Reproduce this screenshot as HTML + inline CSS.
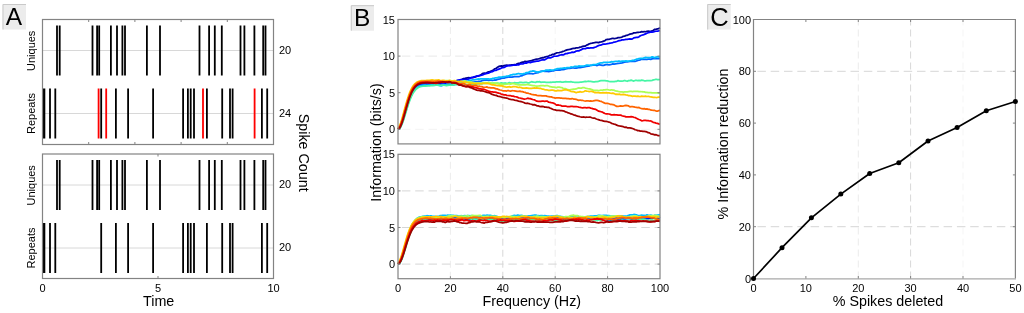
<!DOCTYPE html>
<html><head><meta charset="utf-8"><style>
html,body{margin:0;padding:0;background:#fff;}
body{width:1024px;height:313px;overflow:hidden;}
svg{display:block;font-family:"Liberation Sans", sans-serif;will-change:transform;-webkit-font-smoothing:antialiased;}
</style></head><body>
<svg width="1024" height="313" viewBox="0 0 1024 313">
<rect width="1024" height="313" fill="#fff"/>
<rect x="2.5" y="4" width="23.5" height="25.5" fill="#ececec"/>
<path d="M3.0,29.5 V4.5 H26.0" stroke="#c9c9c9" stroke-width="1" fill="none"/>
<text x="13.9" y="24.9" font-size="24.5" text-anchor="middle" fill="#000">A</text>
<path d="M42.5,50.5H273.5M42.5,113.5H273.5" stroke="#d8d8d8" stroke-width="1" fill="none"/>
<path d="M57.0,25.5V75.5 M59.7,25.5V75.5 M92.5,25.5V75.5 M97.1,25.5V75.5 M99.2,25.5V75.5 M110.9,25.5V75.5 M117.0,25.5V75.5 M122.4,25.5V75.5 M125.0,25.5V75.5 M146.9,25.5V75.5 M160.0,25.5V75.5 M199.5,25.5V75.5 M209.1,25.5V75.5 M214.8,25.5V75.5 M221.8,25.5V75.5 M240.5,25.5V75.5 M244.4,25.5V75.5 M254.4,25.5V75.5 M263.2,25.5V75.5 M265.5,25.5V75.5" stroke="#000" stroke-width="1.8" fill="none"/>
<path d="M42.9,88.5V138.5 M44.4,88.5V138.5 M50.0,88.5V138.5 M55.3,88.5V138.5 M101.2,88.5V138.5 M115.9,88.5V138.5 M128.1,88.5V138.5 M153.1,88.5V138.5 M183.1,88.5V138.5 M187.9,88.5V138.5 M190.7,88.5V138.5 M194.0,88.5V138.5 M206.9,88.5V138.5 M222.2,88.5V138.5 M230.0,88.5V138.5 M232.6,88.5V138.5 M261.9,88.5V138.5 M267.2,88.5V138.5" stroke="#000" stroke-width="1.8" fill="none"/>
<path d="M98.6,88.5V138.5 M106.2,88.5V138.5 M203.0,88.5V138.5 M254.6,88.5V138.5" stroke="#ff0000" stroke-width="1.8" fill="none"/>
<rect x="42.5" y="19.5" width="231.0" height="125.0" fill="none" stroke="#838383" stroke-width="1.2"/>
<path d="M88.7,19.5v2.5M88.7,144.5v-2.5 M134.9,19.5v2.5M134.9,144.5v-2.5 M181.1,19.5v2.5M181.1,144.5v-2.5 M227.3,19.5v2.5M227.3,144.5v-2.5" stroke="#838383" stroke-width="1" fill="none"/>
<text x="35.0" y="50.8" font-size="11" text-anchor="middle" fill="#000" transform="rotate(-90 35.0 50.8)">Uniques</text>
<text x="35.1" y="113.5" font-size="11" text-anchor="middle" fill="#000" transform="rotate(-90 35.1 113.5)">Repeats</text>
<text x="279" y="53.7" font-size="11" text-anchor="start" fill="#000">20</text>
<text x="279" y="116.7" font-size="11" text-anchor="start" fill="#000">24</text>
<path d="M42.5,185.0H273.5M42.5,248.0H273.5" stroke="#d8d8d8" stroke-width="1" fill="none"/>
<path d="M57.0,160V210 M59.7,160V210 M92.5,160V210 M97.1,160V210 M99.2,160V210 M110.9,160V210 M117.0,160V210 M122.4,160V210 M125.0,160V210 M146.9,160V210 M160.0,160V210 M199.5,160V210 M209.1,160V210 M214.8,160V210 M221.8,160V210 M240.5,160V210 M244.4,160V210 M254.4,160V210 M263.2,160V210 M265.5,160V210" stroke="#000" stroke-width="1.8" fill="none"/>
<path d="M42.9,223V273 M44.4,223V273 M50.0,223V273 M55.3,223V273 M101.2,223V273 M115.9,223V273 M128.1,223V273 M153.1,223V273 M183.1,223V273 M187.9,223V273 M190.7,223V273 M194.0,223V273 M206.9,223V273 M222.2,223V273 M230.0,223V273 M232.6,223V273 M261.9,223V273 M267.2,223V273" stroke="#000" stroke-width="1.8" fill="none"/>
<rect x="42.5" y="154" width="231.0" height="124.5" fill="none" stroke="#838383" stroke-width="1.2"/>
<path d="M158.0,154v2.5M158.0,278.5v-2.5" stroke="#838383" stroke-width="1" fill="none"/>
<text x="35.0" y="185.3" font-size="11" text-anchor="middle" fill="#000" transform="rotate(-90 35.0 185.3)">Uniques</text>
<text x="35.1" y="248.0" font-size="11" text-anchor="middle" fill="#000" transform="rotate(-90 35.1 248.0)">Repeats</text>
<text x="279" y="188.2" font-size="11" text-anchor="start" fill="#000">20</text>
<text x="279" y="251.2" font-size="11" text-anchor="start" fill="#000">20</text>
<text x="42.5" y="291.5" font-size="11" text-anchor="middle" fill="#000">0</text>
<text x="158.0" y="291.5" font-size="11" text-anchor="middle" fill="#000">5</text>
<text x="273.5" y="291.5" font-size="11" text-anchor="middle" fill="#000">10</text>
<text x="158.7" y="305.6" font-size="14.3" text-anchor="middle" fill="#000">Time</text>
<text x="299.3" y="152.7" font-size="14.3" text-anchor="middle" fill="#000" transform="rotate(90 299.3 152.7)">Spike Count</text>
<rect x="350.8" y="5.2" width="23.2" height="25.5" fill="#ececec"/>
<path d="M351.3,30.7 V5.7 H374.0" stroke="#c9c9c9" stroke-width="1" fill="none"/>
<text x="362.1" y="26.1" font-size="24.5" text-anchor="middle" fill="#000">B</text>
<path d="M450.4,143.94V19.5" stroke="#ececec" stroke-width="1" stroke-dasharray="7 4" fill="none"/>
<path d="M502.8,143.94V19.5" stroke="#d8d8d8" stroke-width="1" stroke-dasharray="7 4" fill="none"/>
<path d="M555.2,143.94V19.5" stroke="#f5f5f5" stroke-width="1" stroke-dasharray="7 4" fill="none"/>
<path d="M607.6,143.94V19.5" stroke="#ececec" stroke-width="1" stroke-dasharray="7 4" fill="none"/>
<path d="M398.0,129.3H660.0" stroke="#f3f3f3" stroke-width="1" stroke-dasharray="8.5 4.8" stroke-dashoffset="-3.9" fill="none"/>
<path d="M398.0,56.1H660.0" stroke="#e8e8e8" stroke-width="1" stroke-dasharray="8.5 4.8" stroke-dashoffset="-3.9" fill="none"/>
<path d="M398.00,129.30 L399.31,128.47 L400.62,126.29 L401.93,123.04 L403.24,119.02 L404.55,114.55 L405.86,109.91 L407.17,105.36 L408.48,101.11 L409.79,97.30 L411.10,94.00 L412.41,91.24 L413.72,89.02 L415.03,87.27 L416.34,85.94 L417.65,84.96 L418.96,84.25 L420.27,83.80 L421.58,83.45 L422.89,83.17 L424.20,83.03 L425.51,82.83 L426.82,82.68 L428.13,82.54 L429.44,82.47 L430.75,82.56 L432.06,82.65 L433.37,82.53 L434.68,82.71 L435.99,82.77 L437.30,83.09 L438.61,83.15 L439.92,83.11 L441.23,82.80 L442.54,82.94 L443.85,82.79 L445.16,82.53 L446.47,82.50 L447.78,82.08 L449.09,81.50 L450.40,81.90 L451.71,81.58 L453.02,81.42 L454.33,81.44 L455.64,80.82 L456.95,80.62 L458.26,80.93 L459.57,80.15 L460.88,79.73 L462.19,79.30 L463.50,78.64 L464.81,78.44 L466.12,78.18 L467.43,77.92 L468.74,77.73 L470.05,77.76 L471.36,77.54 L472.67,77.59 L473.98,77.36 L475.29,77.01 L476.60,76.02 L477.91,76.06 L479.22,75.74 L480.53,75.12 L481.84,74.12 L483.15,73.34 L484.46,73.12 L485.77,73.37 L487.08,72.43 L488.39,71.81 L489.70,71.59 L491.01,71.20 L492.32,70.62 L493.63,69.74 L494.94,68.72 L496.25,68.22 L497.56,67.29 L498.87,66.47 L500.18,66.12 L501.49,65.98 L502.80,66.06 L504.11,65.60 L505.42,65.25 L506.73,65.20 L508.04,65.45 L509.35,65.41 L510.66,65.10 L511.97,64.89 L513.28,64.92 L514.59,64.66 L515.90,64.76 L517.21,63.81 L518.52,63.33 L519.83,63.26 L521.14,62.59 L522.45,62.18 L523.76,62.10 L525.07,61.37 L526.38,61.55 L527.69,61.49 L529.00,61.00 L530.31,60.78 L531.62,60.71 L532.93,60.17 L534.24,59.74 L535.55,59.33 L536.86,59.14 L538.17,59.00 L539.48,58.66 L540.79,58.18 L542.10,57.72 L543.41,57.83 L544.72,57.13 L546.03,56.73 L547.34,56.49 L548.65,55.96 L549.96,55.32 L551.27,55.05 L552.58,54.41 L553.89,54.26 L555.20,53.61 L556.51,52.98 L557.82,52.76 L559.13,52.56 L560.44,52.24 L561.75,51.93 L563.06,51.44 L564.37,50.99 L565.68,50.34 L566.99,49.87 L568.30,49.64 L569.61,49.45 L570.92,49.08 L572.23,48.68 L573.54,48.48 L574.85,48.42 L576.16,47.76 L577.47,47.80 L578.78,47.58 L580.09,47.16 L581.40,46.89 L582.71,46.40 L584.02,46.19 L585.33,46.05 L586.64,45.12 L587.95,44.64 L589.26,43.84 L590.57,43.48 L591.88,43.26 L593.19,42.82 L594.50,42.62 L595.81,42.32 L597.12,42.37 L598.43,42.57 L599.74,42.07 L601.05,41.90 L602.36,41.61 L603.67,41.09 L604.98,40.63 L606.29,39.53 L607.60,39.48 L608.91,39.45 L610.22,39.01 L611.53,38.59 L612.84,38.27 L614.15,38.67 L615.46,38.46 L616.77,38.13 L618.08,37.64 L619.39,37.58 L620.70,37.38 L622.01,37.07 L623.32,36.29 L624.63,36.18 L625.94,35.46 L627.25,35.28 L628.56,34.72 L629.87,34.17 L631.18,33.91 L632.49,33.65 L633.80,32.87 L635.11,32.96 L636.42,32.53 L637.73,32.28 L639.04,32.26 L640.35,32.04 L641.66,31.65 L642.97,31.78 L644.28,31.56 L645.59,31.75 L646.90,31.29 L648.21,31.21 L649.52,31.26 L650.83,31.30 L652.14,30.90 L653.45,30.17 L654.76,29.31 L656.07,29.32 L657.38,28.85 L658.69,28.58 L660.00,27.86" stroke="#000090" stroke-width="1.75" fill="none" stroke-linejoin="round"/>
<path d="M398.00,129.30 L399.31,128.49 L400.62,126.34 L401.93,123.14 L403.24,119.19 L404.55,114.78 L405.86,110.22 L407.17,105.74 L408.48,101.56 L409.79,97.80 L411.10,94.56 L412.41,91.84 L413.72,89.65 L415.03,87.93 L416.34,86.62 L417.65,85.66 L418.96,84.96 L420.27,84.48 L421.58,84.15 L422.89,84.07 L424.20,83.93 L425.51,83.86 L426.82,84.04 L428.13,84.05 L429.44,83.69 L430.75,83.63 L432.06,83.11 L433.37,83.22 L434.68,83.05 L435.99,82.64 L437.30,82.33 L438.61,82.62 L439.92,82.46 L441.23,83.08 L442.54,83.28 L443.85,83.62 L445.16,83.46 L446.47,83.76 L447.78,83.39 L449.09,83.35 L450.40,82.75 L451.71,82.41 L453.02,81.74 L454.33,81.36 L455.64,80.87 L456.95,80.52 L458.26,80.04 L459.57,79.83 L460.88,79.72 L462.19,79.63 L463.50,79.52 L464.81,79.61 L466.12,79.58 L467.43,79.34 L468.74,78.90 L470.05,78.41 L471.36,77.68 L472.67,77.39 L473.98,76.84 L475.29,76.56 L476.60,76.41 L477.91,75.92 L479.22,75.56 L480.53,75.43 L481.84,75.15 L483.15,74.75 L484.46,74.00 L485.77,73.64 L487.08,73.29 L488.39,73.17 L489.70,72.46 L491.01,71.97 L492.32,71.59 L493.63,70.96 L494.94,70.32 L496.25,70.35 L497.56,69.60 L498.87,69.14 L500.18,68.69 L501.49,67.96 L502.80,67.75 L504.11,67.36 L505.42,66.66 L506.73,66.02 L508.04,65.74 L509.35,65.36 L510.66,65.71 L511.97,65.47 L513.28,65.14 L514.59,65.06 L515.90,65.20 L517.21,64.74 L518.52,64.96 L519.83,64.26 L521.14,63.76 L522.45,63.99 L523.76,63.59 L525.07,62.93 L526.38,63.12 L527.69,62.46 L529.00,62.17 L530.31,62.58 L531.62,62.09 L532.93,61.84 L534.24,61.71 L535.55,61.37 L536.86,61.18 L538.17,61.22 L539.48,60.79 L540.79,60.27 L542.10,59.97 L543.41,59.97 L544.72,59.80 L546.03,58.91 L547.34,58.16 L548.65,57.64 L549.96,57.98 L551.27,57.55 L552.58,56.97 L553.89,56.15 L555.20,56.25 L556.51,56.15 L557.82,55.84 L559.13,55.39 L560.44,54.98 L561.75,54.68 L563.06,54.81 L564.37,54.31 L565.68,53.61 L566.99,53.66 L568.30,53.08 L569.61,52.89 L570.92,52.59 L572.23,52.20 L573.54,52.31 L574.85,51.92 L576.16,51.12 L577.47,50.89 L578.78,50.88 L580.09,50.26 L581.40,49.66 L582.71,48.79 L584.02,48.71 L585.33,48.75 L586.64,48.14 L587.95,47.96 L589.26,48.11 L590.57,47.98 L591.88,47.90 L593.19,47.87 L594.50,47.39 L595.81,47.03 L597.12,46.20 L598.43,45.61 L599.74,45.22 L601.05,45.07 L602.36,44.46 L603.67,44.11 L604.98,44.04 L606.29,43.91 L607.60,43.72 L608.91,43.46 L610.22,43.05 L611.53,42.88 L612.84,42.54 L614.15,42.09 L615.46,41.89 L616.77,41.49 L618.08,40.95 L619.39,40.58 L620.70,40.30 L622.01,39.93 L623.32,39.77 L624.63,39.57 L625.94,39.33 L627.25,39.39 L628.56,39.01 L629.87,38.87 L631.18,39.15 L632.49,38.84 L633.80,37.85 L635.11,37.62 L636.42,37.39 L637.73,37.36 L639.04,36.73 L640.35,35.81 L641.66,35.25 L642.97,34.95 L644.28,34.42 L645.59,33.84 L646.90,33.26 L648.21,32.72 L649.52,32.31 L650.83,31.83 L652.14,32.01 L653.45,31.86 L654.76,31.39 L656.07,31.25 L657.38,31.04 L658.69,30.80 L660.00,30.50" stroke="#0000ff" stroke-width="1.75" fill="none" stroke-linejoin="round"/>
<path d="M398.00,129.30 L399.31,128.51 L400.62,126.41 L401.93,123.29 L403.24,119.43 L404.55,115.13 L405.86,110.67 L407.17,106.31 L408.48,102.22 L409.79,98.56 L411.10,95.39 L412.41,92.74 L413.72,90.60 L415.03,88.93 L416.34,87.65 L417.65,86.70 L418.96,86.02 L420.27,85.55 L421.58,85.25 L422.89,85.13 L424.20,85.07 L425.51,85.17 L426.82,85.33 L428.13,85.22 L429.44,85.12 L430.75,85.17 L432.06,85.02 L433.37,85.23 L434.68,84.54 L435.99,84.31 L437.30,84.20 L438.61,84.48 L439.92,84.51 L441.23,84.82 L442.54,84.39 L443.85,84.42 L445.16,84.75 L446.47,84.83 L447.78,84.40 L449.09,84.57 L450.40,84.43 L451.71,84.65 L453.02,84.81 L454.33,84.58 L455.64,84.42 L456.95,84.35 L458.26,83.75 L459.57,83.12 L460.88,82.49 L462.19,82.00 L463.50,81.84 L464.81,81.81 L466.12,81.92 L467.43,82.11 L468.74,82.12 L470.05,82.27 L471.36,82.26 L472.67,82.17 L473.98,82.17 L475.29,81.82 L476.60,81.51 L477.91,81.41 L479.22,81.28 L480.53,81.37 L481.84,80.79 L483.15,80.33 L484.46,80.20 L485.77,80.15 L487.08,79.98 L488.39,80.35 L489.70,80.25 L491.01,80.23 L492.32,80.45 L493.63,80.25 L494.94,79.94 L496.25,80.03 L497.56,79.41 L498.87,79.13 L500.18,78.90 L501.49,78.30 L502.80,78.15 L504.11,78.16 L505.42,77.73 L506.73,77.50 L508.04,77.10 L509.35,76.95 L510.66,77.01 L511.97,77.08 L513.28,76.79 L514.59,76.72 L515.90,76.73 L517.21,76.70 L518.52,76.67 L519.83,76.31 L521.14,75.76 L522.45,75.58 L523.76,74.79 L525.07,74.45 L526.38,74.02 L527.69,73.71 L529.00,73.32 L530.31,73.70 L531.62,73.60 L532.93,73.84 L534.24,73.49 L535.55,73.09 L536.86,72.89 L538.17,72.69 L539.48,71.91 L540.79,71.42 L542.10,71.20 L543.41,71.19 L544.72,71.38 L546.03,71.48 L547.34,71.34 L548.65,71.52 L549.96,71.49 L551.27,71.01 L552.58,70.86 L553.89,70.79 L555.20,70.19 L556.51,70.25 L557.82,70.04 L559.13,69.87 L560.44,70.01 L561.75,69.66 L563.06,69.65 L564.37,69.37 L565.68,68.89 L566.99,68.56 L568.30,68.39 L569.61,68.42 L570.92,68.12 L572.23,67.95 L573.54,67.99 L574.85,68.24 L576.16,68.21 L577.47,67.96 L578.78,67.45 L580.09,67.56 L581.40,67.39 L582.71,67.20 L584.02,66.95 L585.33,66.59 L586.64,66.27 L587.95,66.15 L589.26,66.08 L590.57,65.34 L591.88,65.33 L593.19,65.01 L594.50,65.03 L595.81,65.17 L597.12,65.56 L598.43,64.95 L599.74,64.96 L601.05,65.04 L602.36,65.32 L603.67,65.35 L604.98,64.95 L606.29,64.55 L607.60,64.74 L608.91,64.91 L610.22,64.54 L611.53,64.30 L612.84,63.82 L614.15,64.17 L615.46,63.93 L616.77,63.70 L618.08,63.39 L619.39,63.26 L620.70,63.06 L622.01,62.88 L623.32,62.53 L624.63,62.06 L625.94,61.81 L627.25,61.76 L628.56,61.65 L629.87,61.45 L631.18,61.50 L632.49,61.32 L633.80,61.41 L635.11,61.30 L636.42,61.00 L637.73,60.35 L639.04,60.19 L640.35,59.85 L641.66,59.08 L642.97,59.34 L644.28,59.38 L645.59,59.30 L646.90,59.51 L648.21,59.14 L649.52,59.03 L650.83,59.34 L652.14,58.81 L653.45,58.40 L654.76,58.64 L656.07,58.68 L657.38,58.60 L658.69,58.60 L660.00,58.71" stroke="#0064ff" stroke-width="1.75" fill="none" stroke-linejoin="round"/>
<path d="M398.00,129.30 L399.31,128.51 L400.62,126.43 L401.93,123.34 L403.24,119.51 L404.55,115.25 L405.86,110.83 L407.17,106.50 L408.48,102.44 L409.79,98.81 L411.10,95.67 L412.41,93.04 L413.72,90.92 L415.03,89.26 L416.34,87.99 L417.65,87.05 L418.96,86.38 L420.27,85.87 L421.58,85.52 L422.89,85.36 L424.20,85.22 L425.51,85.08 L426.82,85.27 L428.13,85.11 L429.44,85.11 L430.75,85.05 L432.06,84.70 L433.37,85.18 L434.68,85.41 L435.99,84.78 L437.30,85.04 L438.61,85.21 L439.92,85.56 L441.23,85.87 L442.54,85.51 L443.85,84.93 L445.16,84.93 L446.47,84.56 L447.78,83.72 L449.09,83.35 L450.40,83.03 L451.71,82.79 L453.02,82.80 L454.33,82.87 L455.64,82.94 L456.95,83.10 L458.26,82.75 L459.57,82.66 L460.88,82.59 L462.19,82.59 L463.50,82.10 L464.81,81.69 L466.12,81.55 L467.43,81.46 L468.74,80.79 L470.05,80.27 L471.36,80.08 L472.67,79.84 L473.98,79.81 L475.29,79.61 L476.60,79.24 L477.91,78.99 L479.22,79.17 L480.53,78.96 L481.84,78.92 L483.15,78.90 L484.46,78.76 L485.77,78.87 L487.08,78.93 L488.39,78.92 L489.70,79.12 L491.01,78.99 L492.32,78.49 L493.63,78.44 L494.94,77.98 L496.25,77.94 L497.56,77.68 L498.87,77.04 L500.18,77.19 L501.49,77.18 L502.80,76.89 L504.11,76.70 L505.42,76.49 L506.73,76.12 L508.04,76.15 L509.35,75.60 L510.66,74.95 L511.97,74.89 L513.28,74.41 L514.59,74.31 L515.90,74.17 L517.21,73.82 L518.52,73.49 L519.83,73.86 L521.14,73.95 L522.45,74.10 L523.76,73.63 L525.07,73.32 L526.38,72.65 L527.69,72.62 L529.00,72.14 L530.31,71.37 L531.62,71.25 L532.93,70.91 L534.24,71.11 L535.55,71.53 L536.86,72.07 L538.17,71.80 L539.48,71.88 L540.79,71.61 L542.10,71.35 L543.41,70.95 L544.72,70.76 L546.03,70.02 L547.34,70.18 L548.65,70.06 L549.96,69.95 L551.27,70.20 L552.58,70.02 L553.89,69.84 L555.20,69.40 L556.51,68.97 L557.82,68.71 L559.13,68.54 L560.44,68.42 L561.75,68.49 L563.06,68.01 L564.37,67.93 L565.68,68.04 L566.99,67.64 L568.30,67.54 L569.61,67.65 L570.92,66.95 L572.23,67.00 L573.54,66.75 L574.85,66.36 L576.16,66.44 L577.47,66.64 L578.78,65.98 L580.09,66.12 L581.40,66.08 L582.71,66.02 L584.02,65.87 L585.33,65.55 L586.64,65.16 L587.95,65.19 L589.26,65.44 L590.57,65.30 L591.88,65.07 L593.19,64.67 L594.50,64.70 L595.81,64.49 L597.12,64.01 L598.43,63.49 L599.74,63.10 L601.05,62.76 L602.36,62.86 L603.67,62.40 L604.98,62.36 L606.29,62.48 L607.60,62.28 L608.91,62.25 L610.22,62.20 L611.53,61.60 L612.84,61.81 L614.15,61.63 L615.46,61.43 L616.77,61.47 L618.08,61.24 L619.39,61.20 L620.70,61.56 L622.01,61.18 L623.32,61.22 L624.63,61.01 L625.94,60.96 L627.25,61.04 L628.56,61.11 L629.87,60.98 L631.18,60.76 L632.49,60.30 L633.80,60.37 L635.11,59.81 L636.42,59.22 L637.73,58.96 L639.04,58.66 L640.35,58.44 L641.66,58.25 L642.97,58.27 L644.28,57.74 L645.59,57.47 L646.90,57.70 L648.21,57.63 L649.52,57.64 L650.83,57.35 L652.14,56.82 L653.45,57.21 L654.76,57.69 L656.07,57.13 L657.38,56.77 L658.69,56.91 L660.00,57.15" stroke="#00beff" stroke-width="1.75" fill="none" stroke-linejoin="round"/>
<path d="M398.00,129.30 L399.31,128.91 L400.62,127.21 L401.93,124.44 L403.24,120.86 L404.55,116.76 L405.86,112.44 L407.17,108.13 L408.48,104.05 L409.79,100.34 L411.10,97.10 L412.41,94.36 L413.72,92.13 L415.03,90.37 L416.34,89.01 L417.65,88.00 L418.96,87.26 L420.27,86.73 L421.58,86.49 L422.89,86.25 L424.20,86.04 L425.51,86.15 L426.82,85.93 L428.13,85.93 L429.44,85.87 L430.75,85.54 L432.06,85.34 L433.37,85.55 L434.68,85.00 L435.99,85.23 L437.30,85.13 L438.61,85.32 L439.92,85.38 L441.23,85.24 L442.54,85.06 L443.85,85.20 L445.16,85.29 L446.47,85.53 L447.78,85.28 L449.09,85.03 L450.40,85.23 L451.71,85.16 L453.02,85.08 L454.33,84.55 L455.64,84.41 L456.95,84.50 L458.26,84.46 L459.57,84.48 L460.88,84.58 L462.19,84.63 L463.50,84.89 L464.81,84.64 L466.12,84.41 L467.43,84.76 L468.74,84.64 L470.05,84.50 L471.36,84.52 L472.67,84.27 L473.98,84.39 L475.29,84.47 L476.60,84.03 L477.91,83.80 L479.22,83.92 L480.53,83.59 L481.84,83.85 L483.15,83.30 L484.46,83.27 L485.77,83.14 L487.08,83.47 L488.39,83.12 L489.70,82.73 L491.01,83.00 L492.32,83.47 L493.63,83.23 L494.94,83.42 L496.25,83.37 L497.56,83.06 L498.87,83.42 L500.18,83.20 L501.49,82.91 L502.80,83.31 L504.11,83.03 L505.42,82.98 L506.73,83.33 L508.04,83.07 L509.35,82.69 L510.66,83.09 L511.97,83.05 L513.28,83.01 L514.59,82.72 L515.90,82.87 L517.21,82.92 L518.52,82.81 L519.83,82.38 L521.14,82.45 L522.45,82.70 L523.76,82.64 L525.07,82.30 L526.38,82.26 L527.69,82.80 L529.00,82.86 L530.31,82.29 L531.62,81.72 L532.93,82.06 L534.24,82.24 L535.55,82.38 L536.86,81.71 L538.17,81.81 L539.48,81.66 L540.79,82.28 L542.10,82.03 L543.41,82.04 L544.72,82.00 L546.03,82.28 L547.34,82.48 L548.65,82.47 L549.96,82.24 L551.27,82.37 L552.58,82.21 L553.89,82.03 L555.20,82.06 L556.51,81.75 L557.82,81.84 L559.13,81.77 L560.44,81.71 L561.75,82.13 L563.06,82.06 L564.37,81.79 L565.68,81.74 L566.99,81.88 L568.30,81.91 L569.61,81.90 L570.92,81.67 L572.23,82.03 L573.54,82.19 L574.85,82.29 L576.16,82.44 L577.47,82.34 L578.78,82.49 L580.09,82.14 L581.40,82.17 L582.71,81.97 L584.02,81.56 L585.33,81.28 L586.64,81.52 L587.95,81.23 L589.26,81.31 L590.57,81.43 L591.88,81.59 L593.19,81.80 L594.50,81.91 L595.81,81.73 L597.12,81.58 L598.43,81.44 L599.74,80.90 L601.05,80.64 L602.36,80.70 L603.67,80.59 L604.98,80.62 L606.29,80.80 L607.60,80.95 L608.91,81.43 L610.22,81.58 L611.53,81.50 L612.84,81.66 L614.15,81.58 L615.46,81.40 L616.77,81.36 L618.08,80.60 L619.39,81.01 L620.70,81.02 L622.01,81.15 L623.32,80.93 L624.63,80.49 L625.94,80.91 L627.25,81.26 L628.56,80.63 L629.87,80.62 L631.18,80.13 L632.49,80.72 L633.80,81.04 L635.11,80.46 L636.42,80.45 L637.73,80.64 L639.04,80.42 L640.35,80.60 L641.66,80.09 L642.97,80.33 L644.28,80.80 L645.59,80.79 L646.90,80.60 L648.21,80.55 L649.52,80.60 L650.83,80.62 L652.14,80.37 L653.45,79.88 L654.76,79.61 L656.07,79.23 L657.38,79.53 L658.69,79.70 L660.00,79.50" stroke="#46f5a5" stroke-width="1.75" fill="none" stroke-linejoin="round"/>
<path d="M398.00,128.97 L399.31,127.23 L400.62,124.26 L401.93,120.36 L403.24,115.87 L404.55,111.08 L405.86,106.29 L407.17,101.72 L408.48,97.56 L409.79,93.91 L411.10,90.82 L412.41,88.29 L413.72,86.29 L415.03,84.74 L416.34,83.58 L417.65,82.74 L418.96,82.14 L420.27,81.74 L421.58,81.45 L422.89,81.42 L424.20,81.45 L425.51,81.58 L426.82,81.70 L428.13,81.75 L429.44,81.88 L430.75,81.80 L432.06,81.56 L433.37,81.37 L434.68,81.29 L435.99,81.55 L437.30,81.58 L438.61,81.50 L439.92,81.50 L441.23,81.55 L442.54,81.43 L443.85,81.11 L445.16,80.70 L446.47,80.60 L447.78,80.66 L449.09,80.80 L450.40,80.60 L451.71,80.76 L453.02,81.09 L454.33,81.33 L455.64,81.70 L456.95,81.59 L458.26,81.37 L459.57,81.70 L460.88,81.56 L462.19,81.34 L463.50,81.11 L464.81,80.80 L466.12,81.42 L467.43,81.96 L468.74,81.96 L470.05,81.87 L471.36,82.16 L472.67,82.56 L473.98,82.94 L475.29,82.90 L476.60,83.02 L477.91,82.90 L479.22,83.38 L480.53,83.47 L481.84,82.97 L483.15,82.75 L484.46,82.63 L485.77,82.66 L487.08,82.95 L488.39,82.60 L489.70,82.56 L491.01,82.81 L492.32,83.10 L493.63,83.14 L494.94,83.14 L496.25,83.22 L497.56,83.36 L498.87,83.84 L500.18,84.16 L501.49,84.15 L502.80,84.37 L504.11,84.41 L505.42,84.36 L506.73,84.24 L508.04,83.85 L509.35,83.80 L510.66,84.16 L511.97,83.69 L513.28,83.63 L514.59,83.81 L515.90,84.43 L517.21,84.58 L518.52,84.87 L519.83,84.57 L521.14,84.87 L522.45,84.89 L523.76,84.85 L525.07,84.81 L526.38,84.54 L527.69,84.47 L529.00,84.85 L530.31,85.01 L531.62,85.28 L532.93,85.64 L534.24,85.66 L535.55,85.99 L536.86,86.21 L538.17,85.99 L539.48,85.79 L540.79,85.62 L542.10,85.57 L543.41,85.59 L544.72,85.78 L546.03,85.67 L547.34,85.62 L548.65,86.02 L549.96,86.73 L551.27,86.82 L552.58,87.13 L553.89,87.09 L555.20,87.32 L556.51,87.54 L557.82,87.21 L559.13,87.06 L560.44,87.39 L561.75,87.59 L563.06,88.29 L564.37,88.64 L565.68,88.70 L566.99,89.35 L568.30,89.62 L569.61,89.79 L570.92,89.50 L572.23,89.29 L573.54,89.11 L574.85,89.22 L576.16,88.94 L577.47,88.30 L578.78,87.92 L580.09,88.12 L581.40,88.04 L582.71,87.72 L584.02,87.61 L585.33,88.04 L586.64,88.43 L587.95,88.68 L589.26,88.81 L590.57,89.03 L591.88,89.70 L593.19,90.14 L594.50,90.45 L595.81,90.36 L597.12,90.38 L598.43,90.69 L599.74,90.38 L601.05,90.02 L602.36,90.35 L603.67,89.76 L604.98,89.90 L606.29,89.67 L607.60,89.74 L608.91,89.97 L610.22,90.13 L611.53,89.78 L612.84,90.17 L614.15,90.19 L615.46,90.94 L616.77,91.01 L618.08,91.45 L619.39,91.70 L620.70,91.92 L622.01,91.95 L623.32,92.16 L624.63,91.93 L625.94,91.89 L627.25,91.77 L628.56,91.54 L629.87,91.34 L631.18,91.46 L632.49,91.63 L633.80,91.40 L635.11,91.45 L636.42,91.31 L637.73,91.33 L639.04,91.59 L640.35,91.52 L641.66,91.74 L642.97,91.91 L644.28,91.82 L645.59,92.31 L646.90,92.47 L648.21,92.66 L649.52,92.63 L650.83,92.61 L652.14,92.91 L653.45,92.95 L654.76,92.78 L656.07,92.92 L657.38,92.92 L658.69,93.10 L660.00,93.03" stroke="#aaff55" stroke-width="1.75" fill="none" stroke-linejoin="round"/>
<path d="M398.00,128.59 L399.31,126.41 L400.62,123.08 L401.93,118.91 L403.24,114.22 L404.55,109.33 L405.86,104.51 L407.17,99.99 L408.48,95.91 L409.79,92.38 L411.10,89.41 L412.41,87.01 L413.72,85.12 L415.03,83.67 L416.34,82.60 L417.65,81.83 L418.96,81.29 L420.27,80.92 L421.58,80.73 L422.89,80.65 L424.20,80.63 L425.51,80.60 L426.82,80.44 L428.13,80.38 L429.44,80.26 L430.75,80.03 L432.06,79.94 L433.37,80.08 L434.68,80.30 L435.99,80.06 L437.30,80.01 L438.61,79.84 L439.92,80.30 L441.23,80.55 L442.54,80.41 L443.85,80.40 L445.16,80.78 L446.47,80.80 L447.78,80.94 L449.09,80.46 L450.40,80.70 L451.71,81.12 L453.02,80.88 L454.33,80.73 L455.64,80.98 L456.95,81.58 L458.26,81.88 L459.57,81.70 L460.88,81.46 L462.19,81.79 L463.50,82.06 L464.81,82.08 L466.12,82.08 L467.43,82.72 L468.74,82.95 L470.05,83.11 L471.36,83.15 L472.67,83.18 L473.98,83.59 L475.29,83.63 L476.60,83.48 L477.91,83.57 L479.22,83.49 L480.53,83.68 L481.84,83.60 L483.15,83.33 L484.46,83.30 L485.77,83.27 L487.08,83.17 L488.39,83.66 L489.70,83.77 L491.01,84.52 L492.32,84.86 L493.63,84.89 L494.94,85.04 L496.25,85.45 L497.56,85.59 L498.87,85.67 L500.18,85.87 L501.49,85.81 L502.80,86.21 L504.11,86.59 L505.42,86.87 L506.73,87.05 L508.04,86.97 L509.35,86.55 L510.66,87.07 L511.97,86.87 L513.28,86.54 L514.59,86.57 L515.90,86.75 L517.21,87.12 L518.52,87.50 L519.83,87.23 L521.14,87.54 L522.45,88.16 L523.76,88.06 L525.07,88.13 L526.38,87.86 L527.69,88.03 L529.00,88.29 L530.31,88.46 L531.62,88.31 L532.93,88.24 L534.24,87.91 L535.55,88.10 L536.86,87.94 L538.17,88.24 L539.48,88.31 L540.79,88.45 L542.10,89.02 L543.41,89.22 L544.72,89.62 L546.03,89.95 L547.34,89.99 L548.65,90.42 L549.96,90.34 L551.27,90.02 L552.58,90.22 L553.89,90.40 L555.20,90.93 L556.51,90.82 L557.82,90.33 L559.13,90.52 L560.44,90.71 L561.75,90.54 L563.06,90.22 L564.37,89.86 L565.68,89.77 L566.99,89.94 L568.30,90.38 L569.61,90.72 L570.92,91.37 L572.23,91.69 L573.54,91.58 L574.85,92.07 L576.16,92.70 L577.47,92.24 L578.78,92.17 L580.09,91.69 L581.40,92.01 L582.71,92.00 L584.02,91.47 L585.33,90.77 L586.64,91.14 L587.95,91.25 L589.26,91.65 L590.57,91.28 L591.88,91.37 L593.19,91.84 L594.50,92.57 L595.81,92.49 L597.12,92.73 L598.43,92.69 L599.74,92.93 L601.05,92.92 L602.36,92.82 L603.67,92.74 L604.98,92.92 L606.29,92.59 L607.60,92.92 L608.91,92.99 L610.22,93.18 L611.53,93.26 L612.84,93.17 L614.15,93.60 L615.46,94.29 L616.77,94.24 L618.08,94.35 L619.39,94.19 L620.70,94.70 L622.01,94.68 L623.32,94.38 L624.63,94.56 L625.94,94.87 L627.25,95.02 L628.56,95.71 L629.87,95.67 L631.18,95.90 L632.49,96.31 L633.80,96.00 L635.11,96.07 L636.42,96.31 L637.73,96.21 L639.04,96.40 L640.35,96.53 L641.66,96.17 L642.97,96.36 L644.28,96.36 L645.59,96.22 L646.90,96.50 L648.21,96.28 L649.52,96.68 L650.83,96.98 L652.14,97.18 L653.45,97.41 L654.76,97.31 L656.07,97.51 L657.38,97.48 L658.69,97.21 L660.00,97.15" stroke="#ffc800" stroke-width="1.75" fill="none" stroke-linejoin="round"/>
<path d="M398.00,129.07 L399.31,127.46 L400.62,124.60 L401.93,120.79 L403.24,116.33 L404.55,111.56 L405.86,106.76 L407.17,102.16 L408.48,97.96 L409.79,94.25 L411.10,91.11 L412.41,88.52 L413.72,86.47 L415.03,84.88 L416.34,83.68 L417.65,82.81 L418.96,82.20 L420.27,81.80 L421.58,81.64 L422.89,81.59 L424.20,81.39 L425.51,81.42 L426.82,81.36 L428.13,81.40 L429.44,81.39 L430.75,81.27 L432.06,81.42 L433.37,81.70 L434.68,81.35 L435.99,81.35 L437.30,80.98 L438.61,81.24 L439.92,81.07 L441.23,81.25 L442.54,81.25 L443.85,81.72 L445.16,81.75 L446.47,81.58 L447.78,81.65 L449.09,82.11 L450.40,82.02 L451.71,82.42 L453.02,82.55 L454.33,82.80 L455.64,83.22 L456.95,83.35 L458.26,83.32 L459.57,83.74 L460.88,83.95 L462.19,83.56 L463.50,83.57 L464.81,84.09 L466.12,84.76 L467.43,85.20 L468.74,84.73 L470.05,84.94 L471.36,85.41 L472.67,85.61 L473.98,85.65 L475.29,85.49 L476.60,85.68 L477.91,86.55 L479.22,86.20 L480.53,86.52 L481.84,86.59 L483.15,87.08 L484.46,87.27 L485.77,87.15 L487.08,86.94 L488.39,87.67 L489.70,87.61 L491.01,87.89 L492.32,87.89 L493.63,87.94 L494.94,88.36 L496.25,88.91 L497.56,88.89 L498.87,89.72 L500.18,90.01 L501.49,90.25 L502.80,90.81 L504.11,90.91 L505.42,90.79 L506.73,91.06 L508.04,90.48 L509.35,90.87 L510.66,91.12 L511.97,90.72 L513.28,90.75 L514.59,90.90 L515.90,91.17 L517.21,91.45 L518.52,91.37 L519.83,91.17 L521.14,91.66 L522.45,91.69 L523.76,92.19 L525.07,92.40 L526.38,93.03 L527.69,93.05 L529.00,93.51 L530.31,93.90 L531.62,94.50 L532.93,94.65 L534.24,94.90 L535.55,94.86 L536.86,95.40 L538.17,95.55 L539.48,95.72 L540.79,95.72 L542.10,95.91 L543.41,95.83 L544.72,95.92 L546.03,95.92 L547.34,96.42 L548.65,96.53 L549.96,96.88 L551.27,96.83 L552.58,97.34 L553.89,97.72 L555.20,98.03 L556.51,97.86 L557.82,97.75 L559.13,97.87 L560.44,98.01 L561.75,98.13 L563.06,98.49 L564.37,98.34 L565.68,98.33 L566.99,98.57 L568.30,98.60 L569.61,98.84 L570.92,98.93 L572.23,98.54 L573.54,99.03 L574.85,99.06 L576.16,99.28 L577.47,99.83 L578.78,100.32 L580.09,100.01 L581.40,100.36 L582.71,100.48 L584.02,100.77 L585.33,101.01 L586.64,100.87 L587.95,100.75 L589.26,101.08 L590.57,100.93 L591.88,101.04 L593.19,100.92 L594.50,100.69 L595.81,100.45 L597.12,100.46 L598.43,100.66 L599.74,101.12 L601.05,101.35 L602.36,102.05 L603.67,102.61 L604.98,103.26 L606.29,103.34 L607.60,103.46 L608.91,103.77 L610.22,104.30 L611.53,104.37 L612.84,104.63 L614.15,104.91 L615.46,105.64 L616.77,106.37 L618.08,106.37 L619.39,106.21 L620.70,105.89 L622.01,106.01 L623.32,106.02 L624.63,105.72 L625.94,105.45 L627.25,105.72 L628.56,105.98 L629.87,106.79 L631.18,106.68 L632.49,106.66 L633.80,106.80 L635.11,107.09 L636.42,107.31 L637.73,107.60 L639.04,107.49 L640.35,108.24 L641.66,108.52 L642.97,108.84 L644.28,108.69 L645.59,109.07 L646.90,108.88 L648.21,109.40 L649.52,109.47 L650.83,110.03 L652.14,110.22 L653.45,110.36 L654.76,110.49 L656.07,111.04 L657.38,111.17 L658.69,110.73 L660.00,110.47" stroke="#ff6400" stroke-width="1.75" fill="none" stroke-linejoin="round"/>
<path d="M398.00,129.26 L399.31,128.12 L400.62,125.66 L401.93,122.18 L403.24,117.98 L404.55,113.38 L405.86,108.67 L407.17,104.09 L408.48,99.86 L409.79,96.08 L411.10,92.84 L412.41,90.15 L413.72,87.99 L415.03,86.31 L416.34,85.03 L417.65,84.10 L418.96,83.42 L420.27,82.95 L421.58,82.59 L422.89,82.39 L424.20,82.33 L425.51,82.35 L426.82,82.04 L428.13,82.36 L429.44,82.55 L430.75,83.00 L432.06,82.84 L433.37,82.72 L434.68,83.03 L435.99,83.35 L437.30,82.97 L438.61,82.49 L439.92,81.97 L441.23,81.98 L442.54,82.28 L443.85,82.13 L445.16,82.15 L446.47,82.22 L447.78,82.54 L449.09,82.34 L450.40,82.23 L451.71,82.52 L453.02,82.35 L454.33,82.35 L455.64,82.67 L456.95,83.11 L458.26,84.11 L459.57,84.67 L460.88,84.60 L462.19,85.37 L463.50,86.12 L464.81,86.41 L466.12,86.54 L467.43,86.37 L468.74,86.36 L470.05,86.57 L471.36,86.89 L472.67,86.76 L473.98,87.30 L475.29,87.52 L476.60,87.92 L477.91,88.31 L479.22,88.71 L480.53,88.86 L481.84,89.14 L483.15,89.10 L484.46,89.52 L485.77,89.97 L487.08,90.48 L488.39,91.08 L489.70,91.43 L491.01,91.96 L492.32,91.86 L493.63,92.08 L494.94,92.13 L496.25,92.46 L497.56,92.81 L498.87,93.14 L500.18,93.40 L501.49,94.40 L502.80,94.45 L504.11,94.93 L505.42,94.79 L506.73,95.33 L508.04,95.50 L509.35,95.72 L510.66,95.71 L511.97,96.14 L513.28,96.20 L514.59,96.61 L515.90,96.75 L517.21,97.12 L518.52,97.86 L519.83,98.00 L521.14,98.29 L522.45,98.61 L523.76,99.03 L525.07,99.01 L526.38,98.74 L527.69,98.19 L529.00,98.55 L530.31,98.59 L531.62,99.09 L532.93,99.54 L534.24,99.75 L535.55,100.50 L536.86,101.18 L538.17,101.36 L539.48,101.25 L540.79,101.30 L542.10,101.15 L543.41,101.23 L544.72,101.30 L546.03,101.24 L547.34,101.16 L548.65,102.22 L549.96,102.29 L551.27,102.58 L552.58,102.80 L553.89,103.32 L555.20,104.07 L556.51,105.09 L557.82,104.98 L559.13,105.20 L560.44,105.35 L561.75,106.07 L563.06,106.04 L564.37,106.03 L565.68,106.05 L566.99,106.52 L568.30,106.61 L569.61,106.71 L570.92,106.45 L572.23,106.47 L573.54,106.63 L574.85,106.53 L576.16,106.54 L577.47,106.76 L578.78,107.07 L580.09,107.28 L581.40,107.60 L582.71,107.80 L584.02,107.57 L585.33,107.67 L586.64,107.88 L587.95,107.62 L589.26,107.51 L590.57,108.08 L591.88,108.26 L593.19,108.98 L594.50,109.16 L595.81,109.43 L597.12,110.17 L598.43,111.12 L599.74,111.43 L601.05,111.77 L602.36,112.08 L603.67,112.90 L604.98,113.49 L606.29,113.97 L607.60,113.98 L608.91,114.00 L610.22,114.37 L611.53,114.96 L612.84,114.77 L614.15,114.64 L615.46,114.84 L616.77,114.91 L618.08,115.14 L619.39,115.22 L620.70,115.14 L622.01,115.78 L623.32,116.23 L624.63,116.27 L625.94,116.90 L627.25,116.86 L628.56,116.84 L629.87,116.83 L631.18,116.55 L632.49,116.77 L633.80,117.29 L635.11,117.49 L636.42,118.28 L637.73,118.92 L639.04,119.53 L640.35,120.04 L641.66,120.83 L642.97,120.57 L644.28,120.27 L645.59,120.37 L646.90,120.52 L648.21,120.67 L649.52,121.00 L650.83,120.91 L652.14,121.63 L653.45,122.49 L654.76,122.70 L656.07,123.10 L657.38,123.38 L658.69,123.85 L660.00,124.06" stroke="#f00000" stroke-width="1.75" fill="none" stroke-linejoin="round"/>
<path d="M398.00,129.30 L399.31,128.47 L400.62,126.27 L401.93,122.99 L403.24,118.94 L404.55,114.43 L405.86,109.76 L407.17,105.18 L408.48,100.89 L409.79,97.05 L411.10,93.72 L412.41,90.95 L413.72,88.70 L415.03,86.94 L416.34,85.60 L417.65,84.61 L418.96,83.90 L420.27,83.43 L421.58,83.11 L422.89,82.95 L424.20,82.84 L425.51,82.71 L426.82,82.75 L428.13,82.58 L429.44,82.69 L430.75,82.60 L432.06,82.86 L433.37,82.75 L434.68,82.76 L435.99,82.51 L437.30,82.69 L438.61,82.42 L439.92,82.74 L441.23,82.28 L442.54,81.91 L443.85,81.99 L445.16,82.09 L446.47,82.15 L447.78,82.07 L449.09,81.72 L450.40,81.86 L451.71,82.78 L453.02,83.00 L454.33,83.23 L455.64,83.21 L456.95,83.61 L458.26,84.57 L459.57,85.08 L460.88,84.95 L462.19,85.64 L463.50,86.01 L464.81,86.23 L466.12,86.61 L467.43,86.41 L468.74,86.71 L470.05,87.59 L471.36,87.74 L472.67,88.37 L473.98,89.11 L475.29,89.50 L476.60,90.11 L477.91,90.38 L479.22,90.43 L480.53,90.78 L481.84,90.76 L483.15,91.03 L484.46,91.52 L485.77,91.90 L487.08,92.43 L488.39,92.62 L489.70,92.96 L491.01,93.90 L492.32,94.46 L493.63,94.87 L494.94,95.29 L496.25,95.33 L497.56,96.18 L498.87,96.49 L500.18,96.61 L501.49,97.04 L502.80,97.32 L504.11,97.56 L505.42,97.99 L506.73,98.17 L508.04,98.52 L509.35,99.18 L510.66,99.47 L511.97,99.64 L513.28,99.74 L514.59,100.15 L515.90,100.49 L517.21,100.65 L518.52,101.05 L519.83,101.31 L521.14,101.64 L522.45,102.03 L523.76,102.54 L525.07,103.11 L526.38,103.35 L527.69,103.23 L529.00,103.56 L530.31,103.99 L531.62,104.25 L532.93,104.87 L534.24,104.60 L535.55,105.05 L536.86,105.80 L538.17,105.79 L539.48,106.46 L540.79,106.73 L542.10,106.46 L543.41,106.55 L544.72,107.13 L546.03,107.04 L547.34,107.29 L548.65,107.39 L549.96,108.06 L551.27,108.52 L552.58,109.28 L553.89,109.69 L555.20,109.91 L556.51,110.32 L557.82,110.49 L559.13,110.34 L560.44,110.65 L561.75,110.69 L563.06,110.90 L564.37,111.16 L565.68,111.96 L566.99,112.24 L568.30,112.92 L569.61,113.27 L570.92,113.95 L572.23,114.23 L573.54,114.82 L574.85,115.19 L576.16,115.65 L577.47,116.04 L578.78,116.36 L580.09,116.76 L581.40,117.03 L582.71,117.05 L584.02,116.99 L585.33,117.28 L586.64,117.23 L587.95,117.25 L589.26,117.18 L590.57,117.24 L591.88,117.77 L593.19,118.06 L594.50,118.06 L595.81,118.75 L597.12,119.27 L598.43,119.69 L599.74,120.15 L601.05,120.49 L602.36,120.63 L603.67,121.22 L604.98,121.33 L606.29,121.44 L607.60,121.74 L608.91,122.02 L610.22,122.54 L611.53,123.33 L612.84,123.76 L614.15,124.16 L615.46,124.42 L616.77,125.14 L618.08,125.57 L619.39,125.86 L620.70,126.09 L622.01,126.38 L623.32,126.68 L624.63,127.28 L625.94,127.16 L627.25,127.76 L628.56,127.77 L629.87,127.80 L631.18,128.08 L632.49,128.47 L633.80,128.97 L635.11,129.76 L636.42,129.99 L637.73,130.64 L639.04,130.61 L640.35,131.06 L641.66,131.19 L642.97,131.39 L644.28,131.46 L645.59,131.59 L646.90,131.96 L648.21,132.69 L649.52,132.88 L650.83,133.84 L652.14,134.11 L653.45,134.41 L654.76,134.82 L656.07,134.71 L657.38,135.31 L658.69,135.64 L660.00,135.55" stroke="#a00000" stroke-width="1.75" fill="none" stroke-linejoin="round"/>
<rect x="398.0" y="19.5" width="262.0" height="124.4" fill="none" stroke="#838383" stroke-width="1.2"/>
<path d="M450.4,19.5v2.5M450.4,143.9v-2.5 M502.8,19.5v2.5M502.8,143.9v-2.5 M555.2,19.5v2.5M555.2,143.9v-2.5 M607.6,19.5v2.5M607.6,143.9v-2.5 M398.0,129.3h2.5M660.0,129.3h-2.5 M398.0,92.7h2.5M660.0,92.7h-2.5 M398.0,56.1h2.5M660.0,56.1h-2.5" stroke="#838383" stroke-width="1" fill="none"/>
<text x="395" y="133.3" font-size="11" text-anchor="end" fill="#000">0</text>
<text x="395" y="96.70000000000002" font-size="11" text-anchor="end" fill="#000">5</text>
<text x="395" y="60.10000000000001" font-size="11" text-anchor="end" fill="#000">10</text>
<text x="395" y="23.5" font-size="11" text-anchor="end" fill="#000">15</text>
<path d="M450.4,278.74V154.3" stroke="#ececec" stroke-width="1" stroke-dasharray="7 4" fill="none"/>
<path d="M502.8,278.74V154.3" stroke="#d8d8d8" stroke-width="1" stroke-dasharray="7 4" fill="none"/>
<path d="M555.2,278.74V154.3" stroke="#ececec" stroke-width="1" stroke-dasharray="7 4" fill="none"/>
<path d="M607.6,278.74V154.3" stroke="#ececec" stroke-width="1" stroke-dasharray="7 4" fill="none"/>
<path d="M398.0,264.1H660.0" stroke="#d6d6d6" stroke-width="1" stroke-dasharray="8.5 4.8" stroke-dashoffset="-3.9" fill="none"/>
<path d="M398.0,227.5H660.0" stroke="#d6d6d6" stroke-width="1" stroke-dasharray="8.5 4.8" stroke-dashoffset="-3.9" fill="none"/>
<path d="M398.0,190.9H660.0" stroke="#d6d6d6" stroke-width="1" stroke-dasharray="8.5 4.8" stroke-dashoffset="-3.9" fill="none"/>
<path d="M398.00,264.10 L399.31,263.29 L400.62,261.16 L401.93,257.99 L403.24,254.07 L404.55,249.70 L405.86,245.17 L407.17,240.73 L408.48,236.58 L409.79,232.85 L411.10,229.63 L412.41,226.94 L413.72,224.77 L415.03,223.06 L416.34,221.77 L417.65,220.81 L418.96,220.11 L420.27,219.76 L421.58,219.54 L422.89,219.33 L424.20,219.36 L425.51,219.25 L426.82,219.24 L428.13,219.45 L429.44,219.38 L430.75,219.17 L432.06,219.22 L433.37,218.91 L434.68,218.90 L435.99,219.31 L437.30,219.37 L438.61,219.14 L439.92,219.25 L441.23,218.91 L442.54,218.86 L443.85,218.72 L445.16,218.36 L446.47,218.16 L447.78,217.98 L449.09,218.16 L450.40,218.09 L451.71,218.65 L453.02,218.74 L454.33,218.70 L455.64,219.11 L456.95,219.06 L458.26,218.89 L459.57,219.13 L460.88,219.01 L462.19,219.27 L463.50,218.88 L464.81,218.61 L466.12,219.66 L467.43,219.93 L468.74,220.22 L470.05,220.00 L471.36,219.98 L472.67,220.55 L473.98,220.55 L475.29,219.49 L476.60,219.63 L477.91,218.88 L479.22,218.98 L480.53,219.15 L481.84,218.75 L483.15,218.42 L484.46,218.91 L485.77,218.39 L487.08,219.28 L488.39,219.37 L489.70,218.85 L491.01,219.10 L492.32,219.54 L493.63,219.17 L494.94,219.13 L496.25,218.70 L497.56,218.91 L498.87,219.26 L500.18,219.10 L501.49,218.61 L502.80,218.30 L504.11,218.57 L505.42,218.68 L506.73,218.26 L508.04,217.90 L509.35,218.22 L510.66,218.09 L511.97,219.18 L513.28,218.93 L514.59,218.97 L515.90,218.86 L517.21,218.98 L518.52,219.04 L519.83,219.36 L521.14,218.66 L522.45,218.71 L523.76,218.77 L525.07,219.11 L526.38,219.72 L527.69,218.85 L529.00,218.87 L530.31,218.98 L531.62,219.47 L532.93,219.03 L534.24,218.93 L535.55,218.14 L536.86,218.53 L538.17,218.48 L539.48,218.26 L540.79,218.17 L542.10,218.47 L543.41,218.48 L544.72,219.11 L546.03,219.31 L547.34,219.35 L548.65,219.18 L549.96,219.71 L551.27,219.79 L552.58,219.87 L553.89,219.68 L555.20,219.58 L556.51,219.46 L557.82,219.79 L559.13,219.11 L560.44,218.84 L561.75,218.53 L563.06,218.86 L564.37,219.02 L565.68,219.44 L566.99,219.72 L568.30,219.58 L569.61,219.68 L570.92,219.74 L572.23,219.51 L573.54,219.49 L574.85,219.39 L576.16,219.02 L577.47,218.89 L578.78,218.49 L580.09,218.22 L581.40,218.21 L582.71,218.27 L584.02,218.27 L585.33,218.29 L586.64,217.99 L587.95,218.23 L589.26,219.05 L590.57,219.15 L591.88,219.35 L593.19,219.01 L594.50,219.08 L595.81,219.47 L597.12,219.22 L598.43,218.90 L599.74,218.80 L601.05,218.04 L602.36,218.08 L603.67,218.26 L604.98,218.81 L606.29,219.59 L607.60,219.97 L608.91,219.75 L610.22,220.20 L611.53,220.05 L612.84,219.90 L614.15,219.59 L615.46,219.40 L616.77,218.38 L618.08,218.81 L619.39,218.78 L620.70,219.01 L622.01,218.83 L623.32,218.76 L624.63,218.47 L625.94,218.73 L627.25,218.34 L628.56,218.49 L629.87,218.54 L631.18,218.91 L632.49,218.87 L633.80,219.06 L635.11,219.20 L636.42,218.85 L637.73,218.44 L639.04,218.50 L640.35,218.13 L641.66,218.01 L642.97,217.76 L644.28,217.80 L645.59,218.06 L646.90,218.47 L648.21,218.55 L649.52,218.49 L650.83,218.25 L652.14,218.28 L653.45,218.18 L654.76,218.18 L656.07,218.17 L657.38,218.41 L658.69,218.46 L660.00,218.72" stroke="#000090" stroke-width="1.75" fill="none" stroke-linejoin="round"/>
<path d="M398.00,264.10 L399.31,263.29 L400.62,261.14 L401.93,257.94 L403.24,253.99 L404.55,249.58 L405.86,245.02 L407.17,240.54 L408.48,236.36 L409.79,232.60 L411.10,229.36 L412.41,226.64 L413.72,224.45 L415.03,222.73 L416.34,221.42 L417.65,220.46 L418.96,219.76 L420.27,219.32 L421.58,218.95 L422.89,218.77 L424.20,218.60 L425.51,218.56 L426.82,218.41 L428.13,218.41 L429.44,218.32 L430.75,218.45 L432.06,217.89 L433.37,218.19 L434.68,217.67 L435.99,217.35 L437.30,217.08 L438.61,217.33 L439.92,217.32 L441.23,217.75 L442.54,217.52 L443.85,217.90 L445.16,217.97 L446.47,217.90 L447.78,217.46 L449.09,217.72 L450.40,217.46 L451.71,217.20 L453.02,217.36 L454.33,217.17 L455.64,217.74 L456.95,217.88 L458.26,217.69 L459.57,217.58 L460.88,217.86 L462.19,217.75 L463.50,218.28 L464.81,218.26 L466.12,218.21 L467.43,218.41 L468.74,218.92 L470.05,218.86 L471.36,218.93 L472.67,218.85 L473.98,218.66 L475.29,218.45 L476.60,218.05 L477.91,217.92 L479.22,218.41 L480.53,218.17 L481.84,218.05 L483.15,217.86 L484.46,218.12 L485.77,218.54 L487.08,218.28 L488.39,217.71 L489.70,217.73 L491.01,217.84 L492.32,218.04 L493.63,218.01 L494.94,218.19 L496.25,218.45 L497.56,218.82 L498.87,219.20 L500.18,218.96 L501.49,218.85 L502.80,219.01 L504.11,218.54 L505.42,218.86 L506.73,218.69 L508.04,218.30 L509.35,218.25 L510.66,218.49 L511.97,218.33 L513.28,218.49 L514.59,217.82 L515.90,217.53 L517.21,217.47 L518.52,217.16 L519.83,216.91 L521.14,217.18 L522.45,217.31 L523.76,217.85 L525.07,218.12 L526.38,218.69 L527.69,219.22 L529.00,219.12 L530.31,218.79 L531.62,218.79 L532.93,218.24 L534.24,218.39 L535.55,217.98 L536.86,218.40 L538.17,218.68 L539.48,219.10 L540.79,218.67 L542.10,218.88 L543.41,218.98 L544.72,218.82 L546.03,218.27 L547.34,218.15 L548.65,217.95 L549.96,218.37 L551.27,218.61 L552.58,218.77 L553.89,218.91 L555.20,218.73 L556.51,218.34 L557.82,218.41 L559.13,218.51 L560.44,218.44 L561.75,217.82 L563.06,217.72 L564.37,218.15 L565.68,218.40 L566.99,218.38 L568.30,218.09 L569.61,218.14 L570.92,218.68 L572.23,218.75 L573.54,218.44 L574.85,218.78 L576.16,218.75 L577.47,218.67 L578.78,218.66 L580.09,218.47 L581.40,218.02 L582.71,218.01 L584.02,217.52 L585.33,217.71 L586.64,217.54 L587.95,217.83 L589.26,217.80 L590.57,218.10 L591.88,217.98 L593.19,218.43 L594.50,218.36 L595.81,218.69 L597.12,218.76 L598.43,218.49 L599.74,218.53 L601.05,218.94 L602.36,218.60 L603.67,218.27 L604.98,218.25 L606.29,217.69 L607.60,217.49 L608.91,217.73 L610.22,217.59 L611.53,217.83 L612.84,217.77 L614.15,217.93 L615.46,217.94 L616.77,218.26 L618.08,218.13 L619.39,217.78 L620.70,217.68 L622.01,217.59 L623.32,217.31 L624.63,217.12 L625.94,217.19 L627.25,216.99 L628.56,217.21 L629.87,217.33 L631.18,217.59 L632.49,217.81 L633.80,218.12 L635.11,217.79 L636.42,218.16 L637.73,218.72 L639.04,218.97 L640.35,219.14 L641.66,219.25 L642.97,219.24 L644.28,219.41 L645.59,218.85 L646.90,218.39 L648.21,217.89 L649.52,217.96 L650.83,217.68 L652.14,217.37 L653.45,217.20 L654.76,218.04 L656.07,217.91 L657.38,217.65 L658.69,217.30 L660.00,217.77" stroke="#0000ff" stroke-width="1.75" fill="none" stroke-linejoin="round"/>
<path d="M398.00,264.10 L399.31,263.28 L400.62,261.11 L401.93,257.89 L403.24,253.90 L404.55,249.47 L405.86,244.86 L407.17,240.35 L408.48,236.13 L409.79,232.35 L411.10,229.08 L412.41,226.34 L413.72,224.13 L415.03,222.40 L416.34,221.08 L417.65,220.11 L418.96,219.40 L420.27,218.92 L421.58,218.68 L422.89,218.48 L424.20,218.42 L425.51,218.33 L426.82,218.36 L428.13,218.31 L429.44,218.25 L430.75,217.84 L432.06,217.79 L433.37,218.18 L434.68,218.17 L435.99,218.27 L437.30,218.40 L438.61,218.06 L439.92,218.29 L441.23,218.56 L442.54,218.30 L443.85,218.14 L445.16,218.12 L446.47,218.43 L447.78,218.66 L449.09,218.49 L450.40,218.54 L451.71,218.16 L453.02,218.58 L454.33,218.44 L455.64,218.03 L456.95,218.05 L458.26,218.09 L459.57,217.78 L460.88,217.52 L462.19,217.41 L463.50,216.90 L464.81,217.41 L466.12,217.19 L467.43,217.15 L468.74,217.35 L470.05,217.94 L471.36,217.99 L472.67,218.70 L473.98,218.31 L475.29,218.34 L476.60,218.00 L477.91,218.11 L479.22,218.15 L480.53,218.17 L481.84,218.15 L483.15,217.65 L484.46,217.80 L485.77,218.03 L487.08,218.06 L488.39,218.17 L489.70,217.72 L491.01,217.27 L492.32,217.89 L493.63,217.82 L494.94,218.09 L496.25,217.84 L497.56,217.82 L498.87,218.22 L500.18,218.28 L501.49,217.97 L502.80,217.96 L504.11,217.90 L505.42,217.69 L506.73,217.17 L508.04,217.08 L509.35,217.08 L510.66,217.36 L511.97,217.62 L513.28,217.73 L514.59,218.07 L515.90,218.32 L517.21,218.02 L518.52,217.91 L519.83,217.55 L521.14,217.60 L522.45,217.35 L523.76,217.45 L525.07,217.44 L526.38,218.18 L527.69,218.22 L529.00,218.76 L530.31,218.79 L531.62,218.74 L532.93,218.78 L534.24,218.45 L535.55,218.04 L536.86,217.86 L538.17,217.24 L539.48,217.23 L540.79,217.15 L542.10,216.74 L543.41,217.19 L544.72,217.15 L546.03,217.63 L547.34,217.88 L548.65,217.85 L549.96,217.92 L551.27,217.99 L552.58,217.60 L553.89,217.59 L555.20,217.42 L556.51,217.24 L557.82,217.22 L559.13,217.48 L560.44,217.45 L561.75,217.98 L563.06,217.80 L564.37,218.06 L565.68,217.84 L566.99,218.01 L568.30,217.58 L569.61,217.50 L570.92,217.50 L572.23,217.38 L573.54,217.34 L574.85,218.16 L576.16,217.76 L577.47,217.79 L578.78,218.17 L580.09,218.53 L581.40,218.88 L582.71,218.76 L584.02,218.45 L585.33,218.67 L586.64,219.24 L587.95,219.32 L589.26,218.34 L590.57,217.98 L591.88,217.99 L593.19,218.07 L594.50,217.91 L595.81,217.27 L597.12,216.98 L598.43,217.65 L599.74,217.96 L601.05,217.85 L602.36,217.36 L603.67,217.18 L604.98,217.30 L606.29,217.19 L607.60,217.02 L608.91,216.71 L610.22,216.83 L611.53,217.07 L612.84,217.13 L614.15,217.46 L615.46,217.89 L616.77,218.20 L618.08,218.51 L619.39,218.42 L620.70,218.59 L622.01,218.68 L623.32,218.95 L624.63,218.80 L625.94,218.38 L627.25,218.48 L628.56,218.29 L629.87,217.82 L631.18,218.03 L632.49,217.77 L633.80,217.90 L635.11,217.90 L636.42,217.71 L637.73,218.08 L639.04,218.25 L640.35,218.38 L641.66,217.98 L642.97,217.75 L644.28,217.66 L645.59,217.31 L646.90,217.17 L648.21,217.44 L649.52,217.10 L650.83,217.09 L652.14,217.49 L653.45,217.53 L654.76,218.19 L656.07,217.98 L657.38,217.64 L658.69,217.73 L660.00,217.95" stroke="#0064ff" stroke-width="1.75" fill="none" stroke-linejoin="round"/>
<path d="M398.00,264.10 L399.31,263.24 L400.62,260.97 L401.93,257.59 L403.24,253.42 L404.55,248.77 L405.86,243.95 L407.17,239.22 L408.48,234.80 L409.79,230.84 L411.10,227.41 L412.41,224.55 L413.72,222.23 L415.03,220.42 L416.34,219.03 L417.65,218.01 L418.96,217.28 L420.27,216.79 L421.58,216.59 L422.89,216.29 L424.20,216.14 L425.51,216.03 L426.82,215.74 L428.13,215.78 L429.44,216.03 L430.75,215.80 L432.06,216.21 L433.37,216.33 L434.68,216.32 L435.99,216.50 L437.30,216.40 L438.61,216.43 L439.92,215.66 L441.23,215.72 L442.54,215.47 L443.85,215.38 L445.16,215.41 L446.47,215.56 L447.78,215.15 L449.09,215.30 L450.40,215.06 L451.71,215.33 L453.02,215.26 L454.33,215.61 L455.64,215.62 L456.95,215.68 L458.26,216.08 L459.57,216.17 L460.88,215.73 L462.19,215.85 L463.50,215.96 L464.81,215.68 L466.12,215.81 L467.43,215.61 L468.74,215.69 L470.05,215.75 L471.36,215.64 L472.67,215.95 L473.98,216.49 L475.29,216.66 L476.60,216.62 L477.91,216.89 L479.22,216.82 L480.53,216.64 L481.84,215.92 L483.15,215.43 L484.46,215.29 L485.77,215.61 L487.08,215.13 L488.39,215.25 L489.70,215.33 L491.01,215.49 L492.32,215.80 L493.63,215.82 L494.94,215.72 L496.25,216.15 L497.56,216.53 L498.87,216.78 L500.18,216.86 L501.49,216.76 L502.80,217.23 L504.11,217.40 L505.42,217.08 L506.73,216.63 L508.04,216.98 L509.35,216.92 L510.66,216.76 L511.97,216.04 L513.28,215.70 L514.59,215.40 L515.90,215.81 L517.21,215.22 L518.52,215.23 L519.83,215.52 L521.14,215.28 L522.45,215.70 L523.76,216.13 L525.07,215.98 L526.38,216.32 L527.69,216.02 L529.00,215.75 L530.31,215.78 L531.62,215.54 L532.93,215.49 L534.24,215.16 L535.55,215.12 L536.86,215.45 L538.17,215.57 L539.48,215.88 L540.79,215.70 L542.10,215.70 L543.41,215.86 L544.72,215.72 L546.03,215.90 L547.34,216.11 L548.65,216.16 L549.96,216.34 L551.27,216.13 L552.58,216.10 L553.89,216.09 L555.20,215.90 L556.51,215.56 L557.82,215.74 L559.13,216.13 L560.44,216.28 L561.75,216.71 L563.06,216.84 L564.37,216.91 L565.68,217.13 L566.99,216.91 L568.30,216.79 L569.61,216.81 L570.92,216.87 L572.23,216.72 L573.54,216.76 L574.85,216.54 L576.16,217.17 L577.47,217.17 L578.78,217.02 L580.09,217.18 L581.40,217.30 L582.71,217.08 L584.02,217.15 L585.33,216.84 L586.64,216.61 L587.95,216.63 L589.26,216.30 L590.57,216.05 L591.88,216.08 L593.19,216.10 L594.50,215.86 L595.81,215.79 L597.12,215.80 L598.43,215.32 L599.74,215.39 L601.05,215.52 L602.36,215.57 L603.67,215.26 L604.98,215.47 L606.29,215.41 L607.60,215.55 L608.91,215.69 L610.22,216.08 L611.53,216.00 L612.84,216.16 L614.15,216.04 L615.46,216.30 L616.77,216.15 L618.08,216.14 L619.39,215.75 L620.70,215.94 L622.01,215.91 L623.32,216.19 L624.63,216.24 L625.94,216.06 L627.25,215.73 L628.56,215.35 L629.87,214.88 L631.18,214.83 L632.49,214.96 L633.80,214.46 L635.11,214.63 L636.42,214.82 L637.73,215.51 L639.04,215.53 L640.35,215.36 L641.66,215.09 L642.97,215.33 L644.28,215.43 L645.59,215.57 L646.90,214.87 L648.21,215.13 L649.52,215.29 L650.83,215.16 L652.14,215.52 L653.45,215.93 L654.76,215.18 L656.07,215.37 L657.38,215.09 L658.69,214.99 L660.00,214.62" stroke="#00beff" stroke-width="1.75" fill="none" stroke-linejoin="round"/>
<path d="M398.00,264.10 L399.31,263.70 L400.62,261.98 L401.93,259.16 L403.24,255.52 L404.55,251.35 L405.86,246.95 L407.17,242.57 L408.48,238.42 L409.79,234.65 L411.10,231.36 L412.41,228.58 L413.72,226.31 L415.03,224.51 L416.34,223.13 L417.65,222.10 L418.96,221.36 L420.27,220.81 L421.58,220.40 L422.89,220.04 L424.20,219.61 L425.51,219.59 L426.82,219.05 L428.13,218.68 L429.44,218.44 L430.75,218.56 L432.06,218.79 L433.37,219.24 L434.68,219.50 L435.99,219.27 L437.30,219.69 L438.61,220.28 L439.92,220.30 L441.23,220.27 L442.54,220.13 L443.85,219.44 L445.16,219.91 L446.47,219.87 L447.78,219.56 L449.09,219.63 L450.40,219.72 L451.71,219.71 L453.02,219.41 L454.33,219.30 L455.64,219.43 L456.95,218.82 L458.26,218.62 L459.57,218.33 L460.88,218.22 L462.19,218.74 L463.50,218.68 L464.81,218.16 L466.12,218.37 L467.43,218.26 L468.74,218.56 L470.05,218.73 L471.36,219.08 L472.67,219.02 L473.98,219.15 L475.29,219.48 L476.60,219.66 L477.91,218.94 L479.22,218.66 L480.53,218.75 L481.84,218.99 L483.15,219.03 L484.46,218.94 L485.77,218.98 L487.08,219.31 L488.39,219.52 L489.70,219.52 L491.01,219.33 L492.32,219.50 L493.63,219.46 L494.94,219.68 L496.25,220.27 L497.56,220.63 L498.87,220.46 L500.18,220.87 L501.49,221.47 L502.80,221.23 L504.11,221.37 L505.42,221.22 L506.73,220.81 L508.04,221.28 L509.35,220.73 L510.66,220.28 L511.97,220.39 L513.28,220.24 L514.59,220.00 L515.90,220.10 L517.21,219.55 L518.52,220.27 L519.83,220.43 L521.14,220.59 L522.45,220.16 L523.76,220.36 L525.07,220.26 L526.38,220.22 L527.69,219.69 L529.00,219.13 L530.31,219.46 L531.62,219.72 L532.93,219.64 L534.24,219.83 L535.55,220.06 L536.86,220.36 L538.17,220.82 L539.48,220.73 L540.79,220.21 L542.10,219.78 L543.41,219.71 L544.72,219.34 L546.03,219.39 L547.34,219.79 L548.65,219.96 L549.96,220.50 L551.27,220.56 L552.58,220.57 L553.89,220.97 L555.20,220.80 L556.51,220.39 L557.82,220.29 L559.13,220.38 L560.44,220.80 L561.75,220.98 L563.06,220.95 L564.37,221.11 L565.68,220.83 L566.99,220.19 L568.30,220.18 L569.61,219.58 L570.92,219.76 L572.23,219.50 L573.54,219.55 L574.85,219.64 L576.16,219.94 L577.47,219.76 L578.78,220.01 L580.09,219.77 L581.40,220.12 L582.71,219.90 L584.02,219.79 L585.33,219.97 L586.64,219.90 L587.95,219.77 L589.26,219.97 L590.57,219.60 L591.88,219.33 L593.19,219.83 L594.50,219.63 L595.81,219.88 L597.12,220.60 L598.43,219.97 L599.74,220.00 L601.05,220.34 L602.36,219.80 L603.67,219.70 L604.98,219.47 L606.29,219.01 L607.60,219.22 L608.91,219.54 L610.22,219.53 L611.53,219.60 L612.84,220.38 L614.15,220.07 L615.46,220.29 L616.77,220.63 L618.08,220.77 L619.39,220.62 L620.70,220.64 L622.01,220.14 L623.32,220.72 L624.63,220.84 L625.94,220.77 L627.25,220.38 L628.56,220.58 L629.87,220.43 L631.18,220.33 L632.49,220.21 L633.80,219.91 L635.11,219.45 L636.42,219.29 L637.73,219.09 L639.04,219.28 L640.35,219.43 L641.66,219.54 L642.97,219.48 L644.28,219.72 L645.59,219.94 L646.90,220.30 L648.21,220.61 L649.52,220.36 L650.83,220.04 L652.14,220.11 L653.45,220.48 L654.76,220.44 L656.07,220.08 L657.38,219.94 L658.69,219.94 L660.00,220.22" stroke="#46f5a5" stroke-width="1.75" fill="none" stroke-linejoin="round"/>
<path d="M398.00,263.78 L399.31,262.06 L400.62,259.14 L401.93,255.30 L403.24,250.87 L404.55,246.15 L405.86,241.43 L407.17,236.94 L408.48,232.84 L409.79,229.25 L411.10,226.21 L412.41,223.72 L413.72,221.74 L415.03,220.21 L416.34,219.08 L417.65,218.25 L418.96,217.66 L420.27,217.26 L421.58,216.95 L422.89,216.71 L424.20,216.74 L425.51,216.79 L426.82,216.89 L428.13,217.10 L429.44,216.92 L430.75,217.33 L432.06,217.55 L433.37,217.64 L434.68,217.59 L435.99,217.72 L437.30,217.43 L438.61,217.66 L439.92,217.49 L441.23,217.41 L442.54,217.62 L443.85,217.16 L445.16,217.00 L446.47,216.65 L447.78,216.32 L449.09,215.97 L450.40,215.96 L451.71,215.55 L453.02,215.98 L454.33,215.76 L455.64,216.02 L456.95,216.29 L458.26,216.63 L459.57,216.35 L460.88,216.23 L462.19,216.20 L463.50,216.38 L464.81,216.07 L466.12,216.01 L467.43,215.66 L468.74,216.09 L470.05,216.36 L471.36,215.84 L472.67,215.29 L473.98,215.70 L475.29,215.72 L476.60,215.63 L477.91,215.60 L479.22,215.29 L480.53,215.35 L481.84,216.29 L483.15,216.56 L484.46,216.55 L485.77,216.54 L487.08,216.40 L488.39,216.29 L489.70,216.79 L491.01,216.45 L492.32,216.34 L493.63,216.30 L494.94,216.42 L496.25,216.71 L497.56,217.04 L498.87,216.99 L500.18,217.04 L501.49,217.10 L502.80,217.23 L504.11,217.26 L505.42,217.18 L506.73,216.87 L508.04,216.75 L509.35,216.62 L510.66,216.36 L511.97,216.48 L513.28,216.58 L514.59,216.62 L515.90,216.97 L517.21,216.88 L518.52,216.66 L519.83,216.82 L521.14,216.23 L522.45,216.08 L523.76,216.18 L525.07,216.63 L526.38,216.41 L527.69,217.28 L529.00,217.02 L530.31,217.14 L531.62,217.16 L532.93,216.91 L534.24,216.44 L535.55,216.53 L536.86,216.15 L538.17,216.43 L539.48,216.75 L540.79,216.57 L542.10,216.67 L543.41,216.52 L544.72,216.85 L546.03,216.94 L547.34,217.13 L548.65,217.09 L549.96,217.20 L551.27,216.99 L552.58,217.19 L553.89,216.79 L555.20,216.70 L556.51,216.31 L557.82,216.20 L559.13,216.23 L560.44,216.87 L561.75,217.05 L563.06,217.01 L564.37,216.96 L565.68,216.53 L566.99,216.65 L568.30,216.90 L569.61,215.99 L570.92,215.57 L572.23,215.31 L573.54,215.17 L574.85,215.73 L576.16,215.51 L577.47,215.57 L578.78,216.01 L580.09,216.26 L581.40,216.74 L582.71,216.68 L584.02,216.75 L585.33,216.84 L586.64,216.77 L587.95,216.47 L589.26,216.97 L590.57,216.97 L591.88,217.10 L593.19,217.24 L594.50,217.08 L595.81,216.92 L597.12,216.83 L598.43,215.98 L599.74,215.79 L601.05,215.86 L602.36,215.87 L603.67,216.15 L604.98,216.30 L606.29,216.53 L607.60,216.86 L608.91,216.31 L610.22,216.64 L611.53,216.13 L612.84,216.18 L614.15,216.13 L615.46,215.98 L616.77,215.87 L618.08,216.84 L619.39,216.39 L620.70,216.70 L622.01,217.06 L623.32,216.96 L624.63,217.41 L625.94,217.58 L627.25,217.19 L628.56,217.22 L629.87,217.24 L631.18,216.28 L632.49,216.23 L633.80,216.13 L635.11,215.91 L636.42,216.04 L637.73,216.61 L639.04,216.90 L640.35,217.71 L641.66,217.34 L642.97,217.24 L644.28,217.36 L645.59,217.46 L646.90,216.73 L648.21,216.37 L649.52,215.67 L650.83,215.96 L652.14,215.54 L653.45,215.51 L654.76,215.29 L656.07,215.61 L657.38,215.66 L658.69,216.44 L660.00,216.75" stroke="#aaff55" stroke-width="1.75" fill="none" stroke-linejoin="round"/>
<path d="M398.00,263.42 L399.31,261.34 L400.62,258.16 L401.93,254.17 L403.24,249.70 L404.55,245.03 L405.86,240.42 L407.17,236.10 L408.48,232.21 L409.79,228.83 L411.10,226.00 L412.41,223.70 L413.72,221.90 L415.03,220.52 L416.34,219.49 L417.65,218.76 L418.96,218.24 L420.27,217.91 L421.58,217.64 L422.89,217.45 L424.20,217.32 L425.51,217.17 L426.82,217.17 L428.13,216.96 L429.44,216.86 L430.75,216.77 L432.06,216.84 L433.37,216.82 L434.68,217.00 L435.99,216.30 L437.30,216.78 L438.61,216.87 L439.92,216.53 L441.23,216.51 L442.54,217.05 L443.85,217.05 L445.16,217.85 L446.47,217.51 L447.78,217.45 L449.09,217.62 L450.40,217.57 L451.71,217.00 L453.02,216.80 L454.33,216.43 L455.64,216.47 L456.95,216.55 L458.26,216.86 L459.57,217.03 L460.88,217.33 L462.19,217.64 L463.50,218.03 L464.81,218.07 L466.12,218.06 L467.43,218.22 L468.74,218.15 L470.05,217.68 L471.36,217.53 L472.67,217.20 L473.98,217.23 L475.29,217.46 L476.60,217.29 L477.91,217.50 L479.22,217.72 L480.53,218.03 L481.84,217.99 L483.15,217.74 L484.46,217.27 L485.77,217.44 L487.08,217.33 L488.39,217.37 L489.70,217.12 L491.01,216.77 L492.32,216.81 L493.63,217.15 L494.94,217.14 L496.25,216.95 L497.56,216.95 L498.87,216.80 L500.18,217.50 L501.49,216.88 L502.80,216.34 L504.11,216.28 L505.42,216.66 L506.73,216.68 L508.04,216.74 L509.35,216.93 L510.66,217.49 L511.97,218.24 L513.28,218.13 L514.59,217.54 L515.90,217.34 L517.21,217.78 L518.52,216.96 L519.83,216.76 L521.14,216.51 L522.45,216.50 L523.76,216.47 L525.07,216.77 L526.38,216.44 L527.69,216.88 L529.00,216.82 L530.31,217.23 L531.62,217.02 L532.93,217.58 L534.24,217.30 L535.55,217.66 L536.86,217.75 L538.17,218.14 L539.48,217.47 L540.79,218.16 L542.10,217.80 L543.41,218.15 L544.72,217.50 L546.03,217.36 L547.34,217.12 L548.65,217.34 L549.96,216.57 L551.27,216.79 L552.58,216.65 L553.89,216.48 L555.20,216.40 L556.51,216.35 L557.82,216.48 L559.13,216.84 L560.44,217.27 L561.75,217.24 L563.06,217.84 L564.37,218.19 L565.68,218.67 L566.99,218.24 L568.30,218.19 L569.61,218.02 L570.92,217.64 L572.23,217.65 L573.54,217.39 L574.85,217.01 L576.16,217.53 L577.47,217.99 L578.78,217.82 L580.09,217.96 L581.40,217.59 L582.71,217.86 L584.02,217.65 L585.33,217.38 L586.64,216.90 L587.95,216.72 L589.26,216.90 L590.57,217.34 L591.88,217.19 L593.19,217.62 L594.50,217.71 L595.81,217.68 L597.12,217.97 L598.43,217.70 L599.74,217.62 L601.05,217.55 L602.36,217.23 L603.67,217.05 L604.98,217.26 L606.29,217.23 L607.60,217.82 L608.91,218.03 L610.22,217.64 L611.53,217.56 L612.84,217.23 L614.15,217.04 L615.46,216.73 L616.77,216.33 L618.08,215.75 L619.39,216.07 L620.70,216.23 L622.01,216.17 L623.32,216.66 L624.63,217.06 L625.94,217.45 L627.25,217.49 L628.56,217.16 L629.87,217.32 L631.18,217.66 L632.49,217.28 L633.80,216.90 L635.11,216.80 L636.42,216.98 L637.73,217.25 L639.04,216.92 L640.35,216.56 L641.66,216.96 L642.97,216.91 L644.28,216.79 L645.59,216.56 L646.90,216.32 L648.21,216.40 L649.52,216.72 L650.83,216.53 L652.14,217.03 L653.45,216.66 L654.76,216.60 L656.07,217.06 L657.38,216.94 L658.69,216.97 L660.00,217.31" stroke="#ffc800" stroke-width="1.75" fill="none" stroke-linejoin="round"/>
<path d="M398.00,263.88 L399.31,262.36 L400.62,259.65 L401.93,256.04 L403.24,251.82 L404.55,247.30 L405.86,242.75 L407.17,238.40 L408.48,234.42 L409.79,230.91 L411.10,227.93 L412.41,225.49 L413.72,223.54 L415.03,222.03 L416.34,220.90 L417.65,220.08 L418.96,219.49 L420.27,219.05 L421.58,218.80 L422.89,218.51 L424.20,218.27 L425.51,218.14 L426.82,218.02 L428.13,218.17 L429.44,218.28 L430.75,218.24 L432.06,218.50 L433.37,218.73 L434.68,218.89 L435.99,219.09 L437.30,218.86 L438.61,218.76 L439.92,218.69 L441.23,218.42 L442.54,218.77 L443.85,219.02 L445.16,218.37 L446.47,218.39 L447.78,219.08 L449.09,219.06 L450.40,219.04 L451.71,219.10 L453.02,218.85 L454.33,219.21 L455.64,219.33 L456.95,218.80 L458.26,218.56 L459.57,218.59 L460.88,218.30 L462.19,218.11 L463.50,218.31 L464.81,218.13 L466.12,218.24 L467.43,218.53 L468.74,218.41 L470.05,217.72 L471.36,217.83 L472.67,217.61 L473.98,217.40 L475.29,217.32 L476.60,217.31 L477.91,217.64 L479.22,218.00 L480.53,217.73 L481.84,217.70 L483.15,218.06 L484.46,218.07 L485.77,217.83 L487.08,217.77 L488.39,217.85 L489.70,217.50 L491.01,218.04 L492.32,217.72 L493.63,218.13 L494.94,218.62 L496.25,218.63 L497.56,218.65 L498.87,219.13 L500.18,218.97 L501.49,219.44 L502.80,219.30 L504.11,218.98 L505.42,219.12 L506.73,219.58 L508.04,219.20 L509.35,219.12 L510.66,218.83 L511.97,218.83 L513.28,218.97 L514.59,218.77 L515.90,218.49 L517.21,218.75 L518.52,218.83 L519.83,219.13 L521.14,218.56 L522.45,218.45 L523.76,218.28 L525.07,217.95 L526.38,217.96 L527.69,217.68 L529.00,217.70 L530.31,218.51 L531.62,218.27 L532.93,218.29 L534.24,218.43 L535.55,218.93 L536.86,219.43 L538.17,219.31 L539.48,219.22 L540.79,219.40 L542.10,219.79 L543.41,219.56 L544.72,219.32 L546.03,218.97 L547.34,218.53 L548.65,218.18 L549.96,218.43 L551.27,218.01 L552.58,217.93 L553.89,218.07 L555.20,217.99 L556.51,218.44 L557.82,218.95 L559.13,218.61 L560.44,218.63 L561.75,218.85 L563.06,218.47 L564.37,218.88 L565.68,218.64 L566.99,218.35 L568.30,218.76 L569.61,219.17 L570.92,219.22 L572.23,219.38 L573.54,218.47 L574.85,218.36 L576.16,218.64 L577.47,218.17 L578.78,217.63 L580.09,217.80 L581.40,218.01 L582.71,218.05 L584.02,218.46 L585.33,218.05 L586.64,218.69 L587.95,219.26 L589.26,219.65 L590.57,219.13 L591.88,219.26 L593.19,219.05 L594.50,219.35 L595.81,218.92 L597.12,218.55 L598.43,218.51 L599.74,219.02 L601.05,219.32 L602.36,219.06 L603.67,218.74 L604.98,218.62 L606.29,218.99 L607.60,219.21 L608.91,218.88 L610.22,219.06 L611.53,219.25 L612.84,219.36 L614.15,219.35 L615.46,219.24 L616.77,218.34 L618.08,218.40 L619.39,218.07 L620.70,217.90 L622.01,217.57 L623.32,217.59 L624.63,217.82 L625.94,218.29 L627.25,217.87 L628.56,217.89 L629.87,217.90 L631.18,218.03 L632.49,218.27 L633.80,218.03 L635.11,218.03 L636.42,218.19 L637.73,218.22 L639.04,217.94 L640.35,217.93 L641.66,217.35 L642.97,217.08 L644.28,217.21 L645.59,217.07 L646.90,217.08 L648.21,217.21 L649.52,217.28 L650.83,217.79 L652.14,217.86 L653.45,217.84 L654.76,218.52 L656.07,218.80 L657.38,219.20 L658.69,219.56 L660.00,219.51" stroke="#ff6400" stroke-width="1.75" fill="none" stroke-linejoin="round"/>
<path d="M398.00,264.06 L399.31,263.01 L400.62,260.74 L401.93,257.53 L403.24,253.66 L404.55,249.41 L405.86,245.07 L407.17,240.85 L408.48,236.94 L409.79,233.46 L411.10,230.47 L412.41,227.99 L413.72,225.99 L415.03,224.44 L416.34,223.26 L417.65,222.40 L418.96,221.78 L420.27,221.28 L421.58,220.93 L422.89,220.67 L424.20,220.71 L425.51,220.58 L426.82,220.31 L428.13,220.34 L429.44,220.18 L430.75,220.29 L432.06,220.46 L433.37,220.47 L434.68,220.18 L435.99,220.51 L437.30,219.97 L438.61,220.43 L439.92,220.32 L441.23,220.59 L442.54,220.23 L443.85,220.16 L445.16,220.05 L446.47,220.24 L447.78,220.07 L449.09,220.03 L450.40,219.56 L451.71,219.50 L453.02,220.03 L454.33,219.80 L455.64,220.00 L456.95,220.45 L458.26,220.35 L459.57,220.42 L460.88,220.23 L462.19,219.58 L463.50,220.69 L464.81,220.64 L466.12,220.04 L467.43,220.35 L468.74,220.85 L470.05,221.02 L471.36,221.28 L472.67,220.49 L473.98,220.88 L475.29,221.34 L476.60,221.07 L477.91,220.47 L479.22,220.02 L480.53,220.03 L481.84,220.26 L483.15,220.55 L484.46,220.19 L485.77,220.26 L487.08,220.46 L488.39,221.20 L489.70,221.10 L491.01,221.38 L492.32,220.80 L493.63,221.03 L494.94,220.92 L496.25,220.60 L497.56,220.39 L498.87,220.54 L500.18,219.92 L501.49,220.31 L502.80,220.40 L504.11,220.46 L505.42,220.54 L506.73,220.70 L508.04,220.54 L509.35,220.65 L510.66,220.63 L511.97,220.91 L513.28,221.26 L514.59,221.45 L515.90,221.21 L517.21,221.23 L518.52,221.13 L519.83,220.91 L521.14,220.32 L522.45,219.79 L523.76,219.71 L525.07,219.65 L526.38,220.12 L527.69,220.23 L529.00,220.34 L530.31,220.87 L531.62,221.14 L532.93,221.22 L534.24,221.34 L535.55,221.12 L536.86,221.44 L538.17,221.15 L539.48,221.05 L540.79,221.30 L542.10,221.31 L543.41,220.95 L544.72,220.97 L546.03,220.99 L547.34,220.71 L548.65,220.13 L549.96,219.87 L551.27,219.94 L552.58,220.23 L553.89,219.45 L555.20,219.17 L556.51,219.26 L557.82,219.56 L559.13,219.91 L560.44,220.12 L561.75,220.46 L563.06,221.05 L564.37,221.06 L565.68,220.87 L566.99,221.04 L568.30,220.54 L569.61,220.26 L570.92,219.94 L572.23,219.50 L573.54,219.46 L574.85,219.53 L576.16,219.17 L577.47,219.38 L578.78,219.24 L580.09,219.36 L581.40,219.88 L582.71,219.91 L584.02,220.25 L585.33,220.66 L586.64,220.15 L587.95,220.37 L589.26,220.12 L590.57,219.75 L591.88,219.64 L593.19,219.41 L594.50,218.97 L595.81,219.08 L597.12,218.62 L598.43,219.12 L599.74,219.05 L601.05,219.19 L602.36,219.84 L603.67,220.32 L604.98,220.90 L606.29,221.31 L607.60,221.32 L608.91,222.02 L610.22,221.95 L611.53,221.51 L612.84,221.54 L614.15,221.27 L615.46,221.29 L616.77,220.92 L618.08,220.69 L619.39,220.81 L620.70,220.64 L622.01,220.83 L623.32,220.89 L624.63,220.84 L625.94,220.95 L627.25,221.08 L628.56,221.13 L629.87,221.28 L631.18,220.62 L632.49,220.54 L633.80,220.64 L635.11,220.46 L636.42,220.39 L637.73,220.74 L639.04,220.72 L640.35,221.11 L641.66,221.20 L642.97,220.99 L644.28,221.06 L645.59,221.14 L646.90,221.19 L648.21,221.66 L649.52,221.57 L650.83,221.46 L652.14,221.51 L653.45,221.46 L654.76,221.44 L656.07,221.23 L657.38,221.08 L658.69,221.12 L660.00,221.36" stroke="#f00000" stroke-width="1.75" fill="none" stroke-linejoin="round"/>
<path d="M398.00,264.10 L399.31,263.35 L400.62,261.36 L401.93,258.40 L403.24,254.75 L404.55,250.67 L405.86,246.45 L407.17,242.31 L408.48,238.44 L409.79,234.97 L411.10,231.97 L412.41,229.46 L413.72,227.43 L415.03,225.84 L416.34,224.63 L417.65,223.74 L418.96,223.09 L420.27,222.56 L421.58,222.18 L422.89,221.86 L424.20,221.66 L425.51,221.40 L426.82,221.67 L428.13,221.69 L429.44,222.00 L430.75,221.98 L432.06,222.10 L433.37,221.82 L434.68,222.19 L435.99,221.14 L437.30,221.49 L438.61,221.49 L439.92,221.14 L441.23,221.31 L442.54,221.96 L443.85,221.90 L445.16,222.58 L446.47,221.89 L447.78,221.43 L449.09,221.91 L450.40,221.68 L451.71,221.39 L453.02,221.26 L454.33,220.84 L455.64,221.22 L456.95,221.82 L458.26,221.76 L459.57,222.60 L460.88,222.54 L462.19,223.19 L463.50,223.04 L464.81,223.24 L466.12,223.48 L467.43,223.27 L468.74,222.65 L470.05,222.63 L471.36,221.70 L472.67,221.80 L473.98,221.56 L475.29,221.14 L476.60,221.97 L477.91,221.95 L479.22,221.60 L480.53,222.24 L481.84,222.75 L483.15,222.78 L484.46,223.02 L485.77,222.32 L487.08,222.26 L488.39,222.13 L489.70,221.93 L491.01,221.55 L492.32,221.36 L493.63,220.64 L494.94,220.71 L496.25,221.19 L497.56,221.73 L498.87,222.08 L500.18,222.34 L501.49,222.54 L502.80,222.79 L504.11,222.68 L505.42,222.38 L506.73,222.27 L508.04,221.88 L509.35,221.46 L510.66,221.25 L511.97,220.98 L513.28,221.09 L514.59,221.16 L515.90,220.68 L517.21,220.73 L518.52,220.84 L519.83,221.10 L521.14,221.23 L522.45,221.25 L523.76,221.43 L525.07,221.84 L526.38,221.99 L527.69,221.90 L529.00,221.91 L530.31,222.10 L531.62,222.06 L532.93,221.74 L534.24,221.88 L535.55,221.51 L536.86,222.04 L538.17,222.05 L539.48,222.24 L540.79,222.04 L542.10,222.11 L543.41,221.85 L544.72,222.18 L546.03,222.02 L547.34,222.19 L548.65,222.10 L549.96,222.38 L551.27,222.32 L552.58,222.36 L553.89,222.05 L555.20,221.90 L556.51,221.82 L557.82,221.99 L559.13,221.85 L560.44,221.83 L561.75,221.45 L563.06,221.64 L564.37,221.20 L565.68,220.59 L566.99,220.58 L568.30,220.31 L569.61,220.13 L570.92,220.27 L572.23,220.32 L573.54,220.51 L574.85,221.06 L576.16,220.83 L577.47,221.11 L578.78,220.96 L580.09,221.32 L581.40,221.10 L582.71,221.31 L584.02,221.36 L585.33,221.29 L586.64,221.14 L587.95,221.72 L589.26,221.52 L590.57,221.92 L591.88,222.14 L593.19,221.92 L594.50,222.03 L595.81,222.42 L597.12,222.63 L598.43,222.78 L599.74,222.55 L601.05,222.45 L602.36,222.46 L603.67,222.77 L604.98,222.44 L606.29,221.96 L607.60,221.90 L608.91,222.10 L610.22,221.98 L611.53,221.99 L612.84,221.38 L614.15,221.41 L615.46,221.44 L616.77,221.68 L618.08,221.33 L619.39,221.08 L620.70,221.22 L622.01,221.32 L623.32,221.32 L624.63,221.39 L625.94,221.52 L627.25,221.31 L628.56,222.02 L629.87,221.84 L631.18,222.07 L632.49,221.88 L633.80,221.97 L635.11,221.65 L636.42,221.92 L637.73,221.38 L639.04,221.57 L640.35,221.32 L641.66,221.50 L642.97,221.17 L644.28,221.30 L645.59,221.45 L646.90,221.65 L648.21,221.73 L649.52,221.83 L650.83,221.82 L652.14,221.72 L653.45,221.68 L654.76,221.58 L656.07,221.22 L657.38,221.05 L658.69,221.09 L660.00,221.15" stroke="#a00000" stroke-width="1.75" fill="none" stroke-linejoin="round"/>
<rect x="398.0" y="154.3" width="262.0" height="124.4" fill="none" stroke="#838383" stroke-width="1.2"/>
<path d="M450.4,154.3v2.5M450.4,278.7v-2.5 M502.8,154.3v2.5M502.8,278.7v-2.5 M555.2,154.3v2.5M555.2,278.7v-2.5 M607.6,154.3v2.5M607.6,278.7v-2.5 M398.0,264.1h2.5M660.0,264.1h-2.5 M398.0,227.5h2.5M660.0,227.5h-2.5 M398.0,190.9h2.5M660.0,190.9h-2.5" stroke="#838383" stroke-width="1" fill="none"/>
<text x="395" y="268.1" font-size="11" text-anchor="end" fill="#000">0</text>
<text x="395" y="231.50000000000003" font-size="11" text-anchor="end" fill="#000">5</text>
<text x="395" y="194.90000000000003" font-size="11" text-anchor="end" fill="#000">10</text>
<text x="395" y="158.3" font-size="11" text-anchor="end" fill="#000">15</text>
<text x="398.0" y="291.5" font-size="11" text-anchor="middle" fill="#000">0</text>
<text x="450.4" y="291.5" font-size="11" text-anchor="middle" fill="#000">20</text>
<text x="502.8" y="291.5" font-size="11" text-anchor="middle" fill="#000">40</text>
<text x="555.2" y="291.5" font-size="11" text-anchor="middle" fill="#000">60</text>
<text x="607.6" y="291.5" font-size="11" text-anchor="middle" fill="#000">80</text>
<text x="660.0" y="291.5" font-size="11" text-anchor="middle" fill="#000">100</text>
<text x="531.8" y="305.6" font-size="14.3" text-anchor="middle" fill="#000">Frequency (Hz)</text>
<text x="381.2" y="142.5" font-size="14.3" text-anchor="middle" fill="#000" transform="rotate(-90 381.2 142.5)">Information (bits/s)</text>
<rect x="707.2" y="4" width="23.5" height="25.5" fill="#ececec"/>
<path d="M707.7,29.5 V4.5 H730.7" stroke="#c9c9c9" stroke-width="1" fill="none"/>
<text x="719.4" y="25.9" font-size="25.5" text-anchor="middle" fill="#000">C</text>
<path d="M858.3,278.5V19.5" stroke="#ececec" stroke-width="1" stroke-dasharray="7 4" fill="none"/>
<path d="M910.6,278.5V19.5" stroke="#d8d8d8" stroke-width="1" stroke-dasharray="7 4" fill="none"/>
<path d="M963.0,278.5V19.5" stroke="#f5f5f5" stroke-width="1" stroke-dasharray="7 4" fill="none"/>
<path d="M753.5,226.7H1015.4" stroke="#d6d6d6" stroke-width="1" stroke-dasharray="8.5 4.8" stroke-dashoffset="-3.9" fill="none"/>
<path d="M753.5,71.3H1015.4" stroke="#d6d6d6" stroke-width="1" stroke-dasharray="8.5 4.8" stroke-dashoffset="-3.9" fill="none"/>
<path d="M753.5,278.5V19.5H1015.4V278.5" fill="none" stroke="#838383" stroke-width="1.2"/>
<path d="M752.9,278.95H1016.0" fill="none" stroke="#a8a8a8" stroke-width="1.25"/>
<path d="M805.9,19.5v2.5M805.9,278.5v-2.5 M858.3,19.5v2.5M858.3,278.5v-2.5 M910.6,19.5v2.5M910.6,278.5v-2.5 M963.0,19.5v2.5M963.0,278.5v-2.5 M753.5,226.7h2.5M1015.4,226.7h-2.5 M753.5,174.9h2.5M1015.4,174.9h-2.5 M753.5,123.1h2.5M1015.4,123.1h-2.5 M753.5,71.3h2.5M1015.4,71.3h-2.5" stroke="#838383" stroke-width="1" fill="none"/>
<path d="M753.5,278.5 L782.0,247.7 L811.4,217.8 L840.8,194.1 L869.7,173.5 L898.8,162.7 L928.0,141.0 L957.1,127.5 L986.3,110.7 L1015.4,101.5" stroke="#000" stroke-width="1.7" fill="none" stroke-linejoin="round"/>
<circle cx="753.5" cy="278.5" r="2.5" fill="#000"/>
<circle cx="782.0" cy="247.7" r="2.5" fill="#000"/>
<circle cx="811.4" cy="217.8" r="2.5" fill="#000"/>
<circle cx="840.8" cy="194.1" r="2.5" fill="#000"/>
<circle cx="869.7" cy="173.5" r="2.5" fill="#000"/>
<circle cx="898.8" cy="162.7" r="2.5" fill="#000"/>
<circle cx="928.0" cy="141.0" r="2.5" fill="#000"/>
<circle cx="957.1" cy="127.5" r="2.5" fill="#000"/>
<circle cx="986.3" cy="110.7" r="2.5" fill="#000"/>
<circle cx="1015.4" cy="101.5" r="2.5" fill="#000"/>
<text x="751" y="282.5" font-size="11" text-anchor="end" fill="#000">0</text>
<text x="751" y="230.7" font-size="11" text-anchor="end" fill="#000">20</text>
<text x="751" y="178.9" font-size="11" text-anchor="end" fill="#000">40</text>
<text x="751" y="127.1" font-size="11" text-anchor="end" fill="#000">60</text>
<text x="751" y="75.30000000000001" font-size="11" text-anchor="end" fill="#000">80</text>
<text x="751" y="23.5" font-size="11" text-anchor="end" fill="#000">100</text>
<text x="753.5" y="291.5" font-size="11" text-anchor="middle" fill="#000">0</text>
<text x="805.88" y="291.5" font-size="11" text-anchor="middle" fill="#000">10</text>
<text x="858.26" y="291.5" font-size="11" text-anchor="middle" fill="#000">20</text>
<text x="910.64" y="291.5" font-size="11" text-anchor="middle" fill="#000">30</text>
<text x="963.02" y="291.5" font-size="11" text-anchor="middle" fill="#000">40</text>
<text x="1015.4" y="291.5" font-size="11" text-anchor="middle" fill="#000">50</text>
<text x="888" y="305.6" font-size="14.3" text-anchor="middle" fill="#000">% Spikes deleted</text>
<text x="727.8" y="144" font-size="14.3" text-anchor="middle" fill="#000" transform="rotate(-90 727.8 144)">% Information reduction</text>
</svg>
</body></html>
